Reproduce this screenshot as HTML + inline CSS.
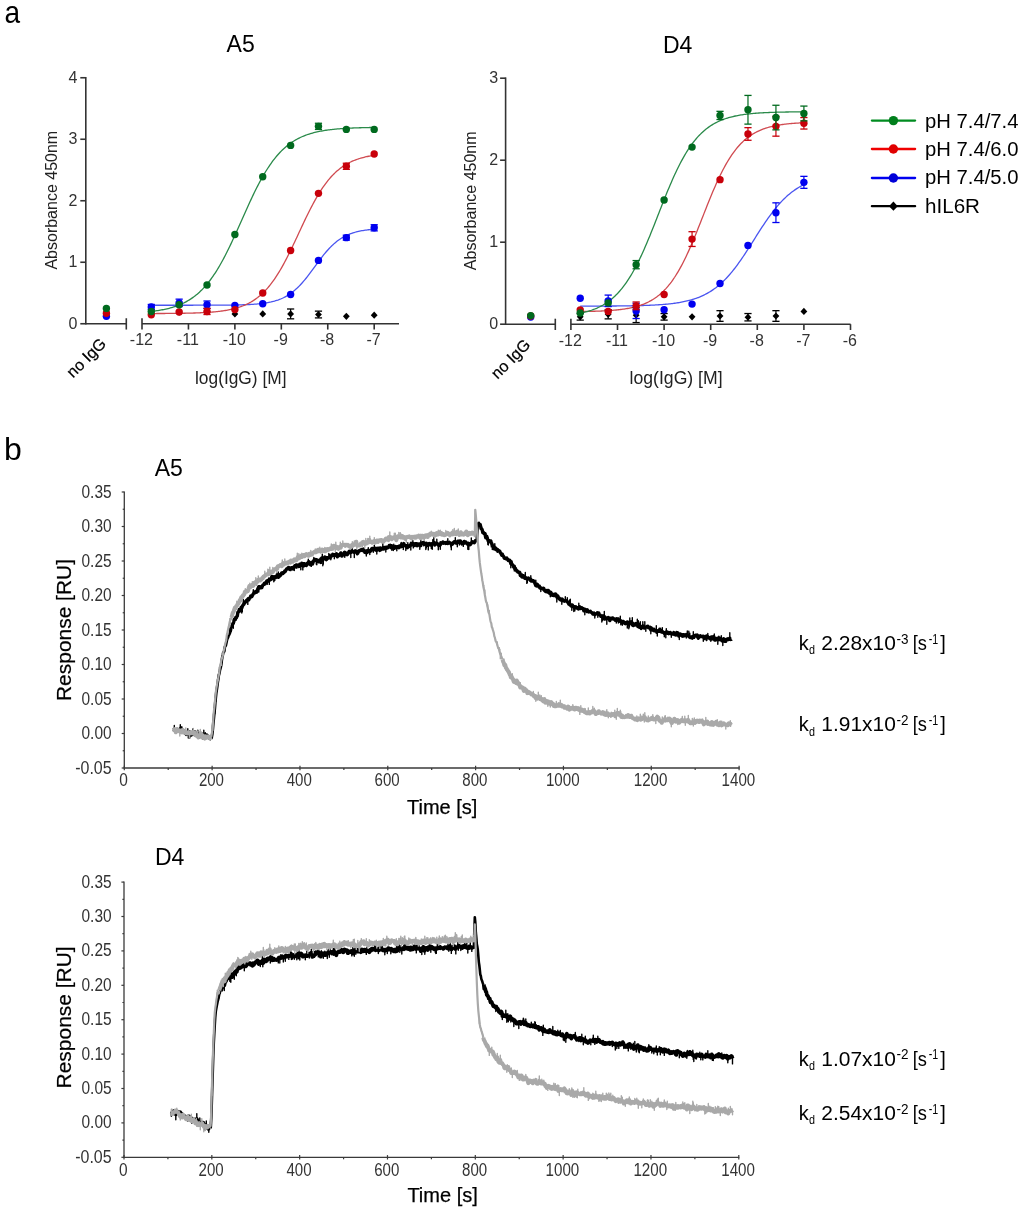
<!DOCTYPE html>
<html><head><meta charset="utf-8"><style>
html,body{margin:0;padding:0;background:#fff;overflow:hidden;}
svg{display:block;font-family:"Liberation Sans", sans-serif;will-change:transform;}
</style></head><body>
<svg width="1024" height="1213" viewBox="0 0 1024 1213">
<rect width="1024" height="1213" fill="#fff"/>
<text x="4.60" y="22.60" font-size="32" text-anchor="start" fill="#000" textLength="15.6" lengthAdjust="spacingAndGlyphs">a</text>
<line x1="85.80" y1="76.95" x2="85.80" y2="324.55" stroke="#333" stroke-width="1.6" />
<line x1="80.30" y1="323.75" x2="85.80" y2="323.75" stroke="#333" stroke-width="1.6" />
<text x="77.40" y="328.65" font-size="16" text-anchor="end" fill="#333" >0</text>
<line x1="80.30" y1="262.25" x2="85.80" y2="262.25" stroke="#333" stroke-width="1.6" />
<text x="77.40" y="267.15" font-size="16" text-anchor="end" fill="#333" >1</text>
<line x1="80.30" y1="200.75" x2="85.80" y2="200.75" stroke="#333" stroke-width="1.6" />
<text x="77.40" y="205.65" font-size="16" text-anchor="end" fill="#333" >2</text>
<line x1="80.30" y1="139.25" x2="85.80" y2="139.25" stroke="#333" stroke-width="1.6" />
<text x="77.40" y="144.15" font-size="16" text-anchor="end" fill="#333" >3</text>
<line x1="80.30" y1="77.75" x2="85.80" y2="77.75" stroke="#333" stroke-width="1.6" />
<text x="77.40" y="82.65" font-size="16" text-anchor="end" fill="#333" >4</text>
<line x1="85.80" y1="323.75" x2="126.30" y2="323.75" stroke="#333" stroke-width="1.6" />
<line x1="126.30" y1="318.25" x2="126.30" y2="329.55" stroke="#333" stroke-width="1.6" />
<line x1="142.00" y1="323.75" x2="399.00" y2="323.75" stroke="#333" stroke-width="1.6" />
<line x1="142.00" y1="318.25" x2="142.00" y2="329.55" stroke="#333" stroke-width="1.6" />
<line x1="188.44" y1="323.75" x2="188.44" y2="329.55" stroke="#333" stroke-width="1.6" />
<line x1="234.88" y1="323.75" x2="234.88" y2="329.55" stroke="#333" stroke-width="1.6" />
<line x1="281.32" y1="323.75" x2="281.32" y2="329.55" stroke="#333" stroke-width="1.6" />
<line x1="327.76" y1="323.75" x2="327.76" y2="329.55" stroke="#333" stroke-width="1.6" />
<line x1="374.20" y1="323.75" x2="374.20" y2="329.55" stroke="#333" stroke-width="1.6" />
<text x="141.40" y="345.35" font-size="16" text-anchor="middle" fill="#333" >-12</text>
<text x="187.84" y="345.35" font-size="16" text-anchor="middle" fill="#333" >-11</text>
<text x="234.28" y="345.35" font-size="16" text-anchor="middle" fill="#333" >-10</text>
<text x="280.72" y="345.35" font-size="16" text-anchor="middle" fill="#333" >-9</text>
<text x="327.16" y="345.35" font-size="16" text-anchor="middle" fill="#333" >-8</text>
<text x="373.60" y="345.35" font-size="16" text-anchor="middle" fill="#333" >-7</text>
<text x="195.00" y="383.80" font-size="17.5" text-anchor="start" fill="#222" textLength="91.5" lengthAdjust="spacingAndGlyphs">log(IgG) [M]</text>
<text transform="translate(57.00,200.20) rotate(-90)" font-size="16" text-anchor="middle" fill="#222">Absorbance 450nm</text>
<text transform="translate(90.10,361.60) rotate(-45)" font-size="16" text-anchor="middle" fill="#000" stroke="#000" stroke-width="0.25">no IgG</text>
<text x="226.60" y="51.90" font-size="23" text-anchor="start" fill="#000" >A5</text>
<polyline points="151.29,305.24 152.41,305.24 153.53,305.24 154.65,305.24 155.77,305.24 156.89,305.24 158.01,305.24 159.13,305.24 160.25,305.24 161.37,305.24 162.49,305.24 163.61,305.24 164.73,305.24 165.85,305.24 166.97,305.24 168.09,305.24 169.21,305.24 170.33,305.24 171.45,305.24 172.57,305.24 173.69,305.24 174.81,305.23 175.93,305.23 177.05,305.23 178.17,305.23 179.29,305.23 180.41,305.23 181.53,305.23 182.65,305.23 183.77,305.23 184.89,305.23 186.01,305.23 187.13,305.23 188.25,305.23 189.37,305.23 190.49,305.23 191.61,305.23 192.73,305.23 193.85,305.22 194.97,305.22 196.09,305.22 197.21,305.22 198.33,305.22 199.45,305.22 200.58,305.22 201.70,305.21 202.82,305.21 203.94,305.21 205.06,305.21 206.18,305.20 207.30,305.20 208.42,305.20 209.54,305.20 210.66,305.19 211.78,305.19 212.90,305.18 214.02,305.18 215.14,305.17 216.26,305.17 217.38,305.16 218.50,305.16 219.62,305.15 220.74,305.14 221.86,305.13 222.98,305.13 224.10,305.12 225.22,305.11 226.34,305.10 227.46,305.08 228.58,305.07 229.70,305.06 230.82,305.04 231.94,305.03 233.06,305.01 234.18,304.99 235.30,304.97 236.42,304.95 237.54,304.92 238.66,304.90 239.78,304.87 240.90,304.84 242.02,304.80 243.14,304.77 244.26,304.73 245.38,304.69 246.50,304.64 247.62,304.59 248.74,304.54 249.86,304.48 250.98,304.42 252.10,304.35 253.22,304.28 254.34,304.20 255.46,304.12 256.58,304.03 257.70,303.93 258.82,303.82 259.94,303.70 261.06,303.58 262.18,303.45 263.30,303.30 264.42,303.14 265.54,302.98 266.66,302.79 267.78,302.60 268.90,302.39 270.03,302.16 271.15,301.92 272.27,301.65 273.39,301.37 274.51,301.07 275.63,300.74 276.75,300.39 277.87,300.02 278.99,299.62 280.11,299.19 281.23,298.73 282.35,298.24 283.47,297.72 284.59,297.16 285.71,296.56 286.83,295.93 287.95,295.26 289.07,294.55 290.19,293.79 291.31,292.99 292.43,292.15 293.55,291.26 294.67,290.33 295.79,289.34 296.91,288.32 298.03,287.24 299.15,286.12 300.27,284.95 301.39,283.74 302.51,282.48 303.63,281.18 304.75,279.84 305.87,278.47 306.99,277.06 308.11,275.62 309.23,274.16 310.35,272.67 311.47,271.16 312.59,269.64 313.71,268.11 314.83,266.58 315.95,265.04 317.07,263.51 318.19,261.99 319.31,260.49 320.43,259.00 321.55,257.54 322.67,256.10 323.79,254.70 324.91,253.33 326.03,252.00 327.15,250.71 328.27,249.45 329.39,248.25 330.51,247.09 331.63,245.97 332.75,244.90 333.87,243.88 334.99,242.90 336.11,241.97 337.23,241.09 338.35,240.26 339.48,239.46 340.60,238.71 341.72,238.01 342.84,237.34 343.96,236.71 345.08,236.12 346.20,235.57 347.32,235.05 348.44,234.56 349.56,234.11 350.68,233.68 351.80,233.29 352.92,232.91 354.04,232.57 355.16,232.25 356.28,231.95 357.40,231.67 358.52,231.41 359.64,231.16 360.76,230.94 361.88,230.73 363.00,230.54 364.12,230.36 365.24,230.19 366.36,230.04 367.48,229.89 368.60,229.76 369.72,229.64 370.84,229.52 371.96,229.42 373.08,229.32 374.20,229.23" fill="none" stroke="#4a55f0" stroke-width="1.3"/>
<polyline points="151.29,313.54 152.41,313.54 153.53,313.53 154.65,313.53 155.77,313.53 156.89,313.52 158.01,313.52 159.13,313.51 160.25,313.50 161.37,313.50 162.49,313.49 163.61,313.48 164.73,313.48 165.85,313.47 166.97,313.46 168.09,313.45 169.21,313.44 170.33,313.43 171.45,313.42 172.57,313.41 173.69,313.40 174.81,313.39 175.93,313.38 177.05,313.36 178.17,313.35 179.29,313.33 180.41,313.31 181.53,313.30 182.65,313.28 183.77,313.26 184.89,313.24 186.01,313.21 187.13,313.19 188.25,313.16 189.37,313.14 190.49,313.11 191.61,313.08 192.73,313.05 193.85,313.01 194.97,312.98 196.09,312.94 197.21,312.90 198.33,312.85 199.45,312.81 200.58,312.76 201.70,312.71 202.82,312.65 203.94,312.59 205.06,312.53 206.18,312.47 207.30,312.40 208.42,312.32 209.54,312.25 210.66,312.16 211.78,312.07 212.90,311.98 214.02,311.88 215.14,311.78 216.26,311.67 217.38,311.55 218.50,311.42 219.62,311.29 220.74,311.15 221.86,311.00 222.98,310.84 224.10,310.68 225.22,310.50 226.34,310.31 227.46,310.11 228.58,309.90 229.70,309.68 230.82,309.45 231.94,309.20 233.06,308.93 234.18,308.66 235.30,308.36 236.42,308.05 237.54,307.72 238.66,307.37 239.78,307.00 240.90,306.61 242.02,306.20 243.14,305.77 244.26,305.31 245.38,304.83 246.50,304.32 247.62,303.78 248.74,303.21 249.86,302.61 250.98,301.99 252.10,301.32 253.22,300.63 254.34,299.90 255.46,299.13 256.58,298.32 257.70,297.47 258.82,296.58 259.94,295.65 261.06,294.67 262.18,293.65 263.30,292.58 264.42,291.46 265.54,290.30 266.66,289.08 267.78,287.81 268.90,286.49 270.03,285.11 271.15,283.68 272.27,282.20 273.39,280.66 274.51,279.06 275.63,277.41 276.75,275.70 277.87,273.94 278.99,272.13 280.11,270.26 281.23,268.34 282.35,266.37 283.47,264.34 284.59,262.27 285.71,260.16 286.83,258.00 287.95,255.80 289.07,253.57 290.19,251.30 291.31,249.00 292.43,246.67 293.55,244.32 294.67,241.95 295.79,239.56 296.91,237.16 298.03,234.76 299.15,232.35 300.27,229.94 301.39,227.54 302.51,225.14 303.63,222.76 304.75,220.40 305.87,218.06 306.99,215.75 308.11,213.47 309.23,211.22 310.35,209.00 311.47,206.83 312.59,204.70 313.71,202.61 314.83,200.57 315.95,198.57 317.07,196.63 318.19,194.74 319.31,192.90 320.43,191.11 321.55,189.38 322.67,187.71 323.79,186.09 324.91,184.53 326.03,183.02 327.15,181.57 328.27,180.17 329.39,178.82 330.51,177.53 331.63,176.29 332.75,175.10 333.87,173.96 334.99,172.87 336.11,171.83 337.23,170.83 338.35,169.88 339.48,168.98 340.60,168.11 341.72,167.29 342.84,166.50 343.96,165.75 345.08,165.04 346.20,164.37 347.32,163.72 348.44,163.11 349.56,162.54 350.68,161.99 351.80,161.46 352.92,160.97 354.04,160.50 355.16,160.06 356.28,159.64 357.40,159.24 358.52,158.86 359.64,158.50 360.76,158.17 361.88,157.85 363.00,157.54 364.12,157.26 365.24,156.99 366.36,156.73 367.48,156.49 368.60,156.26 369.72,156.05 370.84,155.85 371.96,155.65 373.08,155.47 374.20,155.30" fill="none" stroke="#d04a50" stroke-width="1.3"/>
<polyline points="151.29,311.42 152.41,311.29 153.53,311.15 154.65,311.01 155.77,310.86 156.89,310.70 158.01,310.53 159.13,310.35 160.25,310.17 161.37,309.97 162.49,309.76 163.61,309.54 164.73,309.31 165.85,309.07 166.97,308.82 168.09,308.55 169.21,308.27 170.33,307.97 171.45,307.66 172.57,307.33 173.69,306.98 174.81,306.62 175.93,306.24 177.05,305.84 178.17,305.41 179.29,304.97 180.41,304.51 181.53,304.02 182.65,303.51 183.77,302.97 184.89,302.40 186.01,301.81 187.13,301.19 188.25,300.54 189.37,299.86 190.49,299.15 191.61,298.40 192.73,297.62 193.85,296.81 194.97,295.95 196.09,295.06 197.21,294.13 198.33,293.16 199.45,292.15 200.58,291.09 201.70,290.00 202.82,288.85 203.94,287.66 205.06,286.42 206.18,285.14 207.30,283.80 208.42,282.42 209.54,280.98 210.66,279.49 211.78,277.95 212.90,276.36 214.02,274.72 215.14,273.02 216.26,271.28 217.38,269.48 218.50,267.62 219.62,265.72 220.74,263.77 221.86,261.76 222.98,259.71 224.10,257.61 225.22,255.47 226.34,253.28 227.46,251.05 228.58,248.78 229.70,246.47 230.82,244.13 231.94,241.75 233.06,239.35 234.18,236.92 235.30,234.46 236.42,231.99 237.54,229.50 238.66,226.99 239.78,224.48 240.90,221.96 242.02,219.44 243.14,216.92 244.26,214.40 245.38,211.90 246.50,209.40 247.62,206.93 248.74,204.47 249.86,202.03 250.98,199.62 252.10,197.24 253.22,194.89 254.34,192.58 255.46,190.30 256.58,188.06 257.70,185.87 258.82,183.71 259.94,181.60 261.06,179.54 262.18,177.53 263.30,175.57 264.42,173.66 265.54,171.79 266.66,169.98 267.78,168.23 268.90,166.52 270.03,164.87 271.15,163.27 272.27,161.72 273.39,160.22 274.51,158.78 275.63,157.38 276.75,156.04 277.87,154.74 278.99,153.49 280.11,152.29 281.23,151.14 282.35,150.03 283.47,148.97 284.59,147.95 285.71,146.97 286.83,146.03 287.95,145.13 289.07,144.27 290.19,143.45 291.31,142.66 292.43,141.91 293.55,141.19 294.67,140.51 295.79,139.85 296.91,139.23 298.03,138.63 299.15,138.06 300.27,137.52 301.39,137.00 302.51,136.51 303.63,136.04 304.75,135.59 305.87,135.16 306.99,134.76 308.11,134.37 309.23,134.01 310.35,133.66 311.47,133.33 312.59,133.01 313.71,132.71 314.83,132.43 315.95,132.15 317.07,131.90 318.19,131.65 319.31,131.42 320.43,131.20 321.55,130.99 322.67,130.79 323.79,130.60 324.91,130.42 326.03,130.25 327.15,130.09 328.27,129.94 329.39,129.79 330.51,129.66 331.63,129.52 332.75,129.40 333.87,129.28 334.99,129.17 336.11,129.06 337.23,128.96 338.35,128.87 339.48,128.78 340.60,128.69 341.72,128.61 342.84,128.53 343.96,128.46 345.08,128.39 346.20,128.33 347.32,128.26 348.44,128.20 349.56,128.15 350.68,128.10 351.80,128.05 352.92,128.00 354.04,127.95 355.16,127.91 356.28,127.87 357.40,127.83 358.52,127.79 359.64,127.76 360.76,127.73 361.88,127.70 363.00,127.67 364.12,127.64 365.24,127.61 366.36,127.59 367.48,127.56 368.60,127.54 369.72,127.52 370.84,127.50 371.96,127.48 373.08,127.46 374.20,127.44" fill="none" stroke="#2a8a4a" stroke-width="1.3"/>
<path d="M151.29,310.92L154.69,314.52L151.29,318.12L147.89,314.52Z" fill="#000"/>
<path d="M179.15,308.46L182.55,312.06L179.15,315.67L175.75,312.06Z" fill="#000"/>
<path d="M207.02,307.85L210.42,311.45L207.02,315.05L203.62,311.45Z" fill="#000"/>
<path d="M234.88,310.31L238.28,313.91L234.88,317.51L231.48,313.91Z" fill="#000"/>
<path d="M262.74,310.31L266.14,313.91L262.74,317.51L259.34,313.91Z" fill="#000"/>
<line x1="290.61" y1="308.99" x2="290.61" y2="318.83" stroke="#000" stroke-width="1.2" />
<line x1="287.01" y1="308.99" x2="294.21" y2="308.99" stroke="#000" stroke-width="1.3" />
<line x1="287.01" y1="318.83" x2="294.21" y2="318.83" stroke="#000" stroke-width="1.3" />
<path d="M290.61,310.31L294.01,313.91L290.61,317.51L287.21,313.91Z" fill="#000"/>
<line x1="318.47" y1="311.14" x2="318.47" y2="317.91" stroke="#000" stroke-width="1.2" />
<line x1="314.87" y1="311.14" x2="322.07" y2="311.14" stroke="#000" stroke-width="1.3" />
<line x1="314.87" y1="317.91" x2="322.07" y2="317.91" stroke="#000" stroke-width="1.3" />
<path d="M318.47,310.92L321.87,314.52L318.47,318.12L315.07,314.52Z" fill="#000"/>
<path d="M346.34,312.77L349.74,316.37L346.34,319.97L342.94,316.37Z" fill="#000"/>
<path d="M374.20,311.54L377.60,315.14L374.20,318.74L370.80,315.14Z" fill="#000"/>
<line x1="151.29" y1="304.44" x2="151.29" y2="309.36" stroke="#0000f0" stroke-width="1.2" />
<line x1="147.69" y1="304.44" x2="154.89" y2="304.44" stroke="#0000f0" stroke-width="1.3" />
<line x1="147.69" y1="309.36" x2="154.89" y2="309.36" stroke="#0000f0" stroke-width="1.3" />
<circle cx="151.29" cy="306.90" r="3.7" fill="#0000f0"/>
<line x1="179.15" y1="299.15" x2="179.15" y2="306.53" stroke="#0000f0" stroke-width="1.2" />
<line x1="175.55" y1="299.15" x2="182.75" y2="299.15" stroke="#0000f0" stroke-width="1.3" />
<line x1="175.55" y1="306.53" x2="182.75" y2="306.53" stroke="#0000f0" stroke-width="1.3" />
<circle cx="179.15" cy="302.84" r="3.7" fill="#0000f0"/>
<line x1="207.02" y1="301.00" x2="207.02" y2="308.38" stroke="#0000f0" stroke-width="1.2" />
<line x1="203.42" y1="301.00" x2="210.62" y2="301.00" stroke="#0000f0" stroke-width="1.3" />
<line x1="203.42" y1="308.38" x2="210.62" y2="308.38" stroke="#0000f0" stroke-width="1.3" />
<circle cx="207.02" cy="304.69" r="3.7" fill="#0000f0"/>
<circle cx="234.88" cy="305.48" r="3.7" fill="#0000f0"/>
<circle cx="262.74" cy="303.76" r="3.7" fill="#0000f0"/>
<circle cx="290.61" cy="294.48" r="3.7" fill="#0000f0"/>
<circle cx="318.47" cy="260.40" r="3.7" fill="#0000f0"/>
<line x1="346.34" y1="235.19" x2="346.34" y2="240.11" stroke="#0000f0" stroke-width="1.2" />
<line x1="342.74" y1="235.19" x2="349.94" y2="235.19" stroke="#0000f0" stroke-width="1.3" />
<line x1="342.74" y1="240.11" x2="349.94" y2="240.11" stroke="#0000f0" stroke-width="1.3" />
<circle cx="346.34" cy="237.65" r="3.7" fill="#0000f0"/>
<line x1="374.20" y1="224.74" x2="374.20" y2="230.88" stroke="#0000f0" stroke-width="1.2" />
<line x1="370.60" y1="224.74" x2="377.80" y2="224.74" stroke="#0000f0" stroke-width="1.3" />
<line x1="370.60" y1="230.88" x2="377.80" y2="230.88" stroke="#0000f0" stroke-width="1.3" />
<circle cx="374.20" cy="227.81" r="3.7" fill="#0000f0"/>
<circle cx="151.29" cy="314.71" r="3.7" fill="#c8000a"/>
<circle cx="179.15" cy="312.06" r="3.7" fill="#c8000a"/>
<line x1="207.02" y1="308.38" x2="207.02" y2="314.52" stroke="#c8000a" stroke-width="1.2" />
<line x1="203.42" y1="308.38" x2="210.62" y2="308.38" stroke="#c8000a" stroke-width="1.3" />
<line x1="203.42" y1="314.52" x2="210.62" y2="314.52" stroke="#c8000a" stroke-width="1.3" />
<circle cx="207.02" cy="311.45" r="3.7" fill="#c8000a"/>
<circle cx="234.88" cy="309.61" r="3.7" fill="#c8000a"/>
<circle cx="262.74" cy="293.00" r="3.7" fill="#c8000a"/>
<circle cx="290.61" cy="250.56" r="3.7" fill="#c8000a"/>
<circle cx="318.47" cy="193.37" r="3.7" fill="#c8000a"/>
<line x1="346.34" y1="163.24" x2="346.34" y2="169.38" stroke="#c8000a" stroke-width="1.2" />
<line x1="342.74" y1="163.24" x2="349.94" y2="163.24" stroke="#c8000a" stroke-width="1.3" />
<line x1="342.74" y1="169.38" x2="349.94" y2="169.38" stroke="#c8000a" stroke-width="1.3" />
<circle cx="346.34" cy="166.31" r="3.7" fill="#c8000a"/>
<circle cx="374.20" cy="154.01" r="3.7" fill="#c8000a"/>
<circle cx="151.29" cy="311.45" r="3.7" fill="#006a1e"/>
<circle cx="179.15" cy="304.69" r="3.7" fill="#006a1e"/>
<circle cx="207.02" cy="285.00" r="3.7" fill="#006a1e"/>
<circle cx="234.88" cy="234.57" r="3.7" fill="#006a1e"/>
<circle cx="262.74" cy="176.76" r="3.7" fill="#006a1e"/>
<circle cx="290.61" cy="145.40" r="3.7" fill="#006a1e"/>
<line x1="318.47" y1="123.26" x2="318.47" y2="129.41" stroke="#006a1e" stroke-width="1.2" />
<line x1="314.87" y1="123.26" x2="322.07" y2="123.26" stroke="#006a1e" stroke-width="1.3" />
<line x1="314.87" y1="129.41" x2="322.07" y2="129.41" stroke="#006a1e" stroke-width="1.3" />
<circle cx="318.47" cy="126.34" r="3.7" fill="#006a1e"/>
<circle cx="346.34" cy="129.41" r="3.7" fill="#006a1e"/>
<circle cx="374.20" cy="129.41" r="3.7" fill="#006a1e"/>
<circle cx="106.40" cy="316.37" r="3.7" fill="#0000f0"/>
<circle cx="106.40" cy="313.30" r="3.7" fill="#c8000a"/>
<circle cx="106.40" cy="308.38" r="3.7" fill="#006a1e"/>
<line x1="505.60" y1="77.40" x2="505.60" y2="325.00" stroke="#333" stroke-width="1.6" />
<line x1="500.10" y1="324.20" x2="505.60" y2="324.20" stroke="#333" stroke-width="1.6" />
<text x="498.10" y="329.10" font-size="16" text-anchor="end" fill="#333" >0</text>
<line x1="500.10" y1="242.20" x2="505.60" y2="242.20" stroke="#333" stroke-width="1.6" />
<text x="498.10" y="247.10" font-size="16" text-anchor="end" fill="#333" >1</text>
<line x1="500.10" y1="160.20" x2="505.60" y2="160.20" stroke="#333" stroke-width="1.6" />
<text x="498.10" y="165.10" font-size="16" text-anchor="end" fill="#333" >2</text>
<line x1="500.10" y1="78.20" x2="505.60" y2="78.20" stroke="#333" stroke-width="1.6" />
<text x="498.10" y="83.10" font-size="16" text-anchor="end" fill="#333" >3</text>
<line x1="505.60" y1="324.20" x2="555.30" y2="324.20" stroke="#333" stroke-width="1.6" />
<line x1="555.30" y1="318.70" x2="555.30" y2="330.00" stroke="#333" stroke-width="1.6" />
<line x1="570.90" y1="324.20" x2="850.60" y2="324.20" stroke="#333" stroke-width="1.6" />
<line x1="570.90" y1="318.70" x2="570.90" y2="330.00" stroke="#333" stroke-width="1.6" />
<line x1="617.50" y1="324.20" x2="617.50" y2="330.00" stroke="#333" stroke-width="1.6" />
<line x1="664.10" y1="324.20" x2="664.10" y2="330.00" stroke="#333" stroke-width="1.6" />
<line x1="710.70" y1="324.20" x2="710.70" y2="330.00" stroke="#333" stroke-width="1.6" />
<line x1="757.30" y1="324.20" x2="757.30" y2="330.00" stroke="#333" stroke-width="1.6" />
<line x1="803.90" y1="324.20" x2="803.90" y2="330.00" stroke="#333" stroke-width="1.6" />
<line x1="850.50" y1="324.20" x2="850.50" y2="330.00" stroke="#333" stroke-width="1.6" />
<text x="570.30" y="345.80" font-size="16" text-anchor="middle" fill="#333" >-12</text>
<text x="616.90" y="345.80" font-size="16" text-anchor="middle" fill="#333" >-11</text>
<text x="663.50" y="345.80" font-size="16" text-anchor="middle" fill="#333" >-10</text>
<text x="710.10" y="345.80" font-size="16" text-anchor="middle" fill="#333" >-9</text>
<text x="756.70" y="345.80" font-size="16" text-anchor="middle" fill="#333" >-8</text>
<text x="803.30" y="345.80" font-size="16" text-anchor="middle" fill="#333" >-7</text>
<text x="849.90" y="345.80" font-size="16" text-anchor="middle" fill="#333" >-6</text>
<text x="629.60" y="383.80" font-size="17.5" text-anchor="start" fill="#222" textLength="93.0" lengthAdjust="spacingAndGlyphs">log(IgG) [M]</text>
<text transform="translate(475.80,200.80) rotate(-90)" font-size="16" text-anchor="middle" fill="#222">Absorbance 450nm</text>
<text transform="translate(514.40,362.80) rotate(-45)" font-size="16" text-anchor="middle" fill="#000" stroke="#000" stroke-width="0.25">no IgG</text>
<text x="663.00" y="53.20" font-size="23" text-anchor="start" fill="#000" >D4</text>
<polyline points="580.22,306.13 581.34,306.13 582.47,306.12 583.59,306.12 584.72,306.12 585.84,306.12 586.96,306.11 588.09,306.11 589.21,306.11 590.34,306.11 591.46,306.10 592.58,306.10 593.71,306.10 594.83,306.09 595.96,306.09 597.08,306.09 598.20,306.08 599.33,306.08 600.45,306.07 601.58,306.07 602.70,306.06 603.82,306.06 604.95,306.05 606.07,306.05 607.20,306.04 608.32,306.03 609.44,306.03 610.57,306.02 611.69,306.01 612.82,306.00 613.94,306.00 615.06,305.99 616.19,305.98 617.31,305.97 618.44,305.96 619.56,305.95 620.68,305.93 621.81,305.92 622.93,305.91 624.06,305.89 625.18,305.88 626.30,305.86 627.43,305.85 628.55,305.83 629.68,305.81 630.80,305.79 631.92,305.77 633.05,305.75 634.17,305.73 635.30,305.71 636.42,305.68 637.55,305.66 638.67,305.63 639.79,305.60 640.92,305.57 642.04,305.53 643.17,305.50 644.29,305.46 645.41,305.43 646.54,305.39 647.66,305.34 648.79,305.30 649.91,305.25 651.03,305.20 652.16,305.15 653.28,305.09 654.41,305.03 655.53,304.97 656.65,304.91 657.78,304.84 658.90,304.77 660.03,304.69 661.15,304.61 662.27,304.53 663.40,304.44 664.52,304.34 665.65,304.24 666.77,304.14 667.89,304.03 669.02,303.91 670.14,303.79 671.27,303.66 672.39,303.53 673.51,303.39 674.64,303.24 675.76,303.08 676.89,302.91 678.01,302.74 679.13,302.56 680.26,302.36 681.38,302.16 682.51,301.94 683.63,301.72 684.75,301.48 685.88,301.23 687.00,300.97 688.13,300.70 689.25,300.41 690.37,300.11 691.50,299.79 692.62,299.45 693.75,299.10 694.87,298.74 695.99,298.35 697.12,297.95 698.24,297.52 699.37,297.08 700.49,296.61 701.61,296.12 702.74,295.61 703.86,295.08 704.99,294.52 706.11,293.94 707.23,293.33 708.36,292.69 709.48,292.03 710.61,291.33 711.73,290.61 712.85,289.86 713.98,289.07 715.10,288.25 716.23,287.41 717.35,286.52 718.47,285.61 719.60,284.66 720.72,283.67 721.85,282.65 722.97,281.59 724.09,280.49 725.22,279.36 726.34,278.19 727.47,276.99 728.59,275.75 729.71,274.47 730.84,273.15 731.96,271.80 733.09,270.42 734.21,269.00 735.33,267.54 736.46,266.05 737.58,264.53 738.71,262.98 739.83,261.40 740.95,259.79 742.08,258.16 743.20,256.50 744.33,254.82 745.45,253.12 746.57,251.39 747.70,249.66 748.82,247.91 749.95,246.15 751.07,244.37 752.20,242.60 753.32,240.81 754.44,239.03 755.57,237.25 756.69,235.47 757.82,233.70 758.94,231.94 760.06,230.18 761.19,228.45 762.31,226.72 763.44,225.02 764.56,223.33 765.68,221.67 766.81,220.04 767.93,218.42 769.06,216.84 770.18,215.29 771.30,213.76 772.43,212.27 773.55,210.81 774.68,209.39 775.80,208.00 776.92,206.64 778.05,205.32 779.17,204.04 780.30,202.79 781.42,201.58 782.54,200.41 783.67,199.28 784.79,198.18 785.92,197.12 787.04,196.09 788.16,195.10 789.29,194.14 790.41,193.22 791.54,192.34 792.66,191.48 793.78,190.66 794.91,189.88 796.03,189.12 797.16,188.39 798.28,187.70 799.40,187.03 800.53,186.39 801.65,185.77 802.78,185.19 803.90,184.63" fill="none" stroke="#4a55f0" stroke-width="1.3"/>
<polyline points="580.22,311.55 581.34,311.53 582.47,311.52 583.59,311.50 584.72,311.48 585.84,311.46 586.96,311.43 588.09,311.41 589.21,311.38 590.34,311.36 591.46,311.33 592.58,311.30 593.71,311.27 594.83,311.23 595.96,311.20 597.08,311.16 598.20,311.12 599.33,311.07 600.45,311.03 601.58,310.98 602.70,310.93 603.82,310.87 604.95,310.81 606.07,310.75 607.20,310.68 608.32,310.61 609.44,310.54 610.57,310.46 611.69,310.38 612.82,310.29 613.94,310.19 615.06,310.09 616.19,309.99 617.31,309.88 618.44,309.76 619.56,309.63 620.68,309.50 621.81,309.35 622.93,309.20 624.06,309.04 625.18,308.87 626.30,308.69 627.43,308.50 628.55,308.30 629.68,308.09 630.80,307.86 631.92,307.62 633.05,307.37 634.17,307.10 635.30,306.81 636.42,306.51 637.55,306.19 638.67,305.85 639.79,305.50 640.92,305.12 642.04,304.72 643.17,304.29 644.29,303.85 645.41,303.37 646.54,302.87 647.66,302.35 648.79,301.79 649.91,301.20 651.03,300.58 652.16,299.93 653.28,299.24 654.41,298.52 655.53,297.75 656.65,296.95 657.78,296.10 658.90,295.21 660.03,294.27 661.15,293.29 662.27,292.26 663.40,291.18 664.52,290.04 665.65,288.86 666.77,287.61 667.89,286.31 669.02,284.95 670.14,283.54 671.27,282.06 672.39,280.51 673.51,278.91 674.64,277.24 675.76,275.50 676.89,273.70 678.01,271.83 679.13,269.90 680.26,267.90 681.38,265.83 682.51,263.70 683.63,261.51 684.75,259.25 685.88,256.93 687.00,254.55 688.13,252.12 689.25,249.63 690.37,247.08 691.50,244.49 692.62,241.85 693.75,239.17 694.87,236.45 695.99,233.70 697.12,230.91 698.24,228.11 699.37,225.28 700.49,222.44 701.61,219.58 702.74,216.73 703.86,213.87 704.99,211.02 706.11,208.18 707.23,205.35 708.36,202.54 709.48,199.76 710.61,197.01 711.73,194.30 712.85,191.62 713.98,188.99 715.10,186.40 716.23,183.86 717.35,181.37 718.47,178.94 719.60,176.57 720.72,174.26 721.85,172.00 722.97,169.81 724.09,167.69 725.22,165.63 726.34,163.64 727.47,161.71 728.59,159.85 729.71,158.05 730.84,156.33 731.96,154.66 733.09,153.06 734.21,151.52 735.33,150.05 736.46,148.64 737.58,147.28 738.71,145.99 739.83,144.75 740.95,143.57 742.08,142.44 743.20,141.36 744.33,140.34 745.45,139.36 746.57,138.43 747.70,137.54 748.82,136.70 749.95,135.90 751.07,135.14 752.20,134.42 753.32,133.73 754.44,133.08 755.57,132.46 756.69,131.88 757.82,131.33 758.94,130.80 760.06,130.30 761.19,129.83 762.31,129.39 763.44,128.97 764.56,128.57 765.68,128.19 766.81,127.84 767.93,127.50 769.06,127.18 770.18,126.88 771.30,126.60 772.43,126.33 773.55,126.08 774.68,125.84 775.80,125.61 776.92,125.40 778.05,125.20 779.17,125.01 780.30,124.83 781.42,124.66 782.54,124.51 783.67,124.36 784.79,124.21 785.92,124.08 787.04,123.96 788.16,123.84 789.29,123.72 790.41,123.62 791.54,123.52 792.66,123.43 793.78,123.34 794.91,123.26 796.03,123.18 797.16,123.10 798.28,123.03 799.40,122.97 800.53,122.91 801.65,122.85 802.78,122.79 803.90,122.74" fill="none" stroke="#d04a50" stroke-width="1.3"/>
<polyline points="580.22,313.25 581.34,313.01 582.47,312.77 583.59,312.51 584.72,312.23 585.84,311.94 586.96,311.64 588.09,311.32 589.21,310.98 590.34,310.62 591.46,310.25 592.58,309.85 593.71,309.43 594.83,308.99 595.96,308.53 597.08,308.05 598.20,307.53 599.33,307.00 600.45,306.43 601.58,305.83 602.70,305.21 603.82,304.55 604.95,303.86 606.07,303.14 607.20,302.38 608.32,301.58 609.44,300.74 610.57,299.87 611.69,298.95 612.82,297.99 613.94,296.98 615.06,295.93 616.19,294.83 617.31,293.68 618.44,292.48 619.56,291.23 620.68,289.93 621.81,288.57 622.93,287.16 624.06,285.68 625.18,284.16 626.30,282.57 627.43,280.92 628.55,279.21 629.68,277.44 630.80,275.61 631.92,273.72 633.05,271.76 634.17,269.74 635.30,267.67 636.42,265.53 637.55,263.33 638.67,261.07 639.79,258.75 640.92,256.38 642.04,253.95 643.17,251.47 644.29,248.94 645.41,246.36 646.54,243.74 647.66,241.07 648.79,238.37 649.91,235.63 651.03,232.86 652.16,230.06 653.28,227.24 654.41,224.40 655.53,221.54 656.65,218.67 657.78,215.80 658.90,212.92 660.03,210.05 661.15,207.18 662.27,204.33 663.40,201.49 664.52,198.67 665.65,195.87 666.77,193.10 667.89,190.37 669.02,187.67 670.14,185.01 671.27,182.39 672.39,179.82 673.51,177.29 674.64,174.82 675.76,172.40 676.89,170.03 678.01,167.72 679.13,165.47 680.26,163.28 681.38,161.14 682.51,159.07 683.63,157.06 684.75,155.11 685.88,153.23 687.00,151.40 688.13,149.64 689.25,147.94 690.37,146.30 691.50,144.72 692.62,143.19 693.75,141.73 694.87,140.32 695.99,138.97 697.12,137.67 698.24,136.43 699.37,135.23 700.49,134.09 701.61,133.00 702.74,131.95 703.86,130.95 704.99,129.99 706.11,129.08 707.23,128.21 708.36,127.38 709.48,126.59 710.61,125.83 711.73,125.11 712.85,124.42 713.98,123.77 715.10,123.15 716.23,122.55 717.35,121.99 718.47,121.46 719.60,120.95 720.72,120.46 721.85,120.00 722.97,119.57 724.09,119.15 725.22,118.76 726.34,118.39 727.47,118.03 728.59,117.69 729.71,117.37 730.84,117.07 731.96,116.78 733.09,116.51 734.21,116.25 735.33,116.01 736.46,115.78 737.58,115.56 738.71,115.35 739.83,115.15 740.95,114.96 742.08,114.79 743.20,114.62 744.33,114.46 745.45,114.31 746.57,114.17 747.70,114.03 748.82,113.90 749.95,113.78 751.07,113.67 752.20,113.56 753.32,113.46 754.44,113.36 755.57,113.27 756.69,113.18 757.82,113.10 758.94,113.02 760.06,112.95 761.19,112.88 762.31,112.81 763.44,112.75 764.56,112.69 765.68,112.63 766.81,112.58 767.93,112.53 769.06,112.48 770.18,112.44 771.30,112.40 772.43,112.36 773.55,112.32 774.68,112.28 775.80,112.25 776.92,112.22 778.05,112.19 779.17,112.16 780.30,112.13 781.42,112.10 782.54,112.08 783.67,112.06 784.79,112.03 785.92,112.01 787.04,111.99 788.16,111.98 789.29,111.96 790.41,111.94 791.54,111.93 792.66,111.91 793.78,111.90 794.91,111.89 796.03,111.87 797.16,111.86 798.28,111.85 799.40,111.84 800.53,111.83 801.65,111.82 802.78,111.81 803.90,111.80" fill="none" stroke="#2a8a4a" stroke-width="1.3"/>
<line x1="580.22" y1="313.54" x2="580.22" y2="320.10" stroke="#000" stroke-width="1.2" />
<line x1="576.62" y1="313.54" x2="583.82" y2="313.54" stroke="#000" stroke-width="1.3" />
<line x1="576.62" y1="320.10" x2="583.82" y2="320.10" stroke="#000" stroke-width="1.3" />
<path d="M580.22,313.22L583.62,316.82L580.22,320.42L576.82,316.82Z" fill="#000"/>
<line x1="608.18" y1="309.85" x2="608.18" y2="318.87" stroke="#000" stroke-width="1.2" />
<line x1="604.58" y1="309.85" x2="611.78" y2="309.85" stroke="#000" stroke-width="1.3" />
<line x1="604.58" y1="318.87" x2="611.78" y2="318.87" stroke="#000" stroke-width="1.3" />
<path d="M608.18,310.76L611.58,314.36L608.18,317.96L604.78,314.36Z" fill="#000"/>
<line x1="636.14" y1="307.80" x2="636.14" y2="322.56" stroke="#000" stroke-width="1.2" />
<line x1="632.54" y1="307.80" x2="639.74" y2="307.80" stroke="#000" stroke-width="1.3" />
<line x1="632.54" y1="322.56" x2="639.74" y2="322.56" stroke="#000" stroke-width="1.3" />
<path d="M636.14,311.58L639.54,315.18L636.14,318.78L632.74,315.18Z" fill="#000"/>
<line x1="664.10" y1="313.54" x2="664.10" y2="320.10" stroke="#000" stroke-width="1.2" />
<line x1="660.50" y1="313.54" x2="667.70" y2="313.54" stroke="#000" stroke-width="1.3" />
<line x1="660.50" y1="320.10" x2="667.70" y2="320.10" stroke="#000" stroke-width="1.3" />
<path d="M664.10,313.22L667.50,316.82L664.10,320.42L660.70,316.82Z" fill="#000"/>
<path d="M692.06,313.22L695.46,316.82L692.06,320.42L688.66,316.82Z" fill="#000"/>
<line x1="720.02" y1="310.67" x2="720.02" y2="321.33" stroke="#000" stroke-width="1.2" />
<line x1="716.42" y1="310.67" x2="723.62" y2="310.67" stroke="#000" stroke-width="1.3" />
<line x1="716.42" y1="321.33" x2="723.62" y2="321.33" stroke="#000" stroke-width="1.3" />
<path d="M720.02,312.40L723.42,316.00L720.02,319.60L716.62,316.00Z" fill="#000"/>
<line x1="747.98" y1="313.54" x2="747.98" y2="320.92" stroke="#000" stroke-width="1.2" />
<line x1="744.38" y1="313.54" x2="751.58" y2="313.54" stroke="#000" stroke-width="1.3" />
<line x1="744.38" y1="320.92" x2="751.58" y2="320.92" stroke="#000" stroke-width="1.3" />
<path d="M747.98,313.63L751.38,317.23L747.98,320.83L744.58,317.23Z" fill="#000"/>
<line x1="775.94" y1="310.67" x2="775.94" y2="321.33" stroke="#000" stroke-width="1.2" />
<line x1="772.34" y1="310.67" x2="779.54" y2="310.67" stroke="#000" stroke-width="1.3" />
<line x1="772.34" y1="321.33" x2="779.54" y2="321.33" stroke="#000" stroke-width="1.3" />
<path d="M775.94,312.40L779.34,316.00L775.94,319.60L772.54,316.00Z" fill="#000"/>
<path d="M803.90,307.81L807.30,311.41L803.90,315.01L800.50,311.41Z" fill="#000"/>
<circle cx="580.22" cy="298.21" r="3.7" fill="#0000f0"/>
<line x1="608.18" y1="295.09" x2="608.18" y2="306.57" stroke="#0000f0" stroke-width="1.2" />
<line x1="604.58" y1="295.09" x2="611.78" y2="295.09" stroke="#0000f0" stroke-width="1.3" />
<line x1="604.58" y1="306.57" x2="611.78" y2="306.57" stroke="#0000f0" stroke-width="1.3" />
<circle cx="608.18" cy="300.83" r="3.7" fill="#0000f0"/>
<line x1="636.14" y1="303.29" x2="636.14" y2="318.54" stroke="#0000f0" stroke-width="1.2" />
<line x1="632.54" y1="303.29" x2="639.74" y2="303.29" stroke="#0000f0" stroke-width="1.3" />
<line x1="632.54" y1="318.54" x2="639.74" y2="318.54" stroke="#0000f0" stroke-width="1.3" />
<circle cx="636.14" cy="310.92" r="3.7" fill="#0000f0"/>
<circle cx="664.10" cy="309.69" r="3.7" fill="#0000f0"/>
<circle cx="692.06" cy="304.11" r="3.7" fill="#0000f0"/>
<circle cx="720.02" cy="283.53" r="3.7" fill="#0000f0"/>
<circle cx="747.98" cy="245.40" r="3.7" fill="#0000f0"/>
<line x1="775.94" y1="202.84" x2="775.94" y2="222.52" stroke="#0000f0" stroke-width="1.2" />
<line x1="772.34" y1="202.84" x2="779.54" y2="202.84" stroke="#0000f0" stroke-width="1.3" />
<line x1="772.34" y1="222.52" x2="779.54" y2="222.52" stroke="#0000f0" stroke-width="1.3" />
<circle cx="775.94" cy="212.68" r="3.7" fill="#0000f0"/>
<line x1="803.90" y1="176.35" x2="803.90" y2="188.33" stroke="#0000f0" stroke-width="1.2" />
<line x1="800.30" y1="176.35" x2="807.50" y2="176.35" stroke="#0000f0" stroke-width="1.3" />
<line x1="800.30" y1="188.33" x2="807.50" y2="188.33" stroke="#0000f0" stroke-width="1.3" />
<circle cx="803.90" cy="182.34" r="3.7" fill="#0000f0"/>
<circle cx="580.22" cy="309.85" r="3.7" fill="#c8000a"/>
<circle cx="608.18" cy="311.41" r="3.7" fill="#c8000a"/>
<line x1="636.14" y1="301.98" x2="636.14" y2="309.69" stroke="#c8000a" stroke-width="1.2" />
<line x1="632.54" y1="301.98" x2="639.74" y2="301.98" stroke="#c8000a" stroke-width="1.3" />
<line x1="632.54" y1="309.69" x2="639.74" y2="309.69" stroke="#c8000a" stroke-width="1.3" />
<circle cx="636.14" cy="305.83" r="3.7" fill="#c8000a"/>
<circle cx="664.10" cy="294.43" r="3.7" fill="#c8000a"/>
<line x1="692.06" y1="231.70" x2="692.06" y2="246.46" stroke="#c8000a" stroke-width="1.2" />
<line x1="688.46" y1="231.70" x2="695.66" y2="231.70" stroke="#c8000a" stroke-width="1.3" />
<line x1="688.46" y1="246.46" x2="695.66" y2="246.46" stroke="#c8000a" stroke-width="1.3" />
<circle cx="692.06" cy="239.08" r="3.7" fill="#c8000a"/>
<circle cx="720.02" cy="179.63" r="3.7" fill="#c8000a"/>
<line x1="747.98" y1="127.65" x2="747.98" y2="140.27" stroke="#c8000a" stroke-width="1.2" />
<line x1="744.38" y1="127.65" x2="751.58" y2="127.65" stroke="#c8000a" stroke-width="1.3" />
<line x1="744.38" y1="140.27" x2="751.58" y2="140.27" stroke="#c8000a" stroke-width="1.3" />
<circle cx="747.98" cy="133.96" r="3.7" fill="#c8000a"/>
<line x1="775.94" y1="116.49" x2="775.94" y2="136.17" stroke="#c8000a" stroke-width="1.2" />
<line x1="772.34" y1="116.49" x2="779.54" y2="116.49" stroke="#c8000a" stroke-width="1.3" />
<line x1="772.34" y1="136.17" x2="779.54" y2="136.17" stroke="#c8000a" stroke-width="1.3" />
<circle cx="775.94" cy="126.33" r="3.7" fill="#c8000a"/>
<line x1="803.90" y1="117.56" x2="803.90" y2="129.04" stroke="#c8000a" stroke-width="1.2" />
<line x1="800.30" y1="117.56" x2="807.50" y2="117.56" stroke="#c8000a" stroke-width="1.3" />
<line x1="800.30" y1="129.04" x2="807.50" y2="129.04" stroke="#c8000a" stroke-width="1.3" />
<circle cx="803.90" cy="123.30" r="3.7" fill="#c8000a"/>
<circle cx="580.22" cy="312.97" r="3.7" fill="#006a1e"/>
<circle cx="608.18" cy="302.88" r="3.7" fill="#006a1e"/>
<line x1="636.14" y1="260.57" x2="636.14" y2="268.77" stroke="#006a1e" stroke-width="1.2" />
<line x1="632.54" y1="260.57" x2="639.74" y2="260.57" stroke="#006a1e" stroke-width="1.3" />
<line x1="632.54" y1="268.77" x2="639.74" y2="268.77" stroke="#006a1e" stroke-width="1.3" />
<circle cx="636.14" cy="264.67" r="3.7" fill="#006a1e"/>
<circle cx="664.10" cy="199.97" r="3.7" fill="#006a1e"/>
<circle cx="692.06" cy="147.08" r="3.7" fill="#006a1e"/>
<line x1="720.02" y1="111.33" x2="720.02" y2="119.53" stroke="#006a1e" stroke-width="1.2" />
<line x1="716.42" y1="111.33" x2="723.62" y2="111.33" stroke="#006a1e" stroke-width="1.3" />
<line x1="716.42" y1="119.53" x2="723.62" y2="119.53" stroke="#006a1e" stroke-width="1.3" />
<circle cx="720.02" cy="115.43" r="3.7" fill="#006a1e"/>
<line x1="747.98" y1="95.42" x2="747.98" y2="124.12" stroke="#006a1e" stroke-width="1.2" />
<line x1="744.38" y1="95.42" x2="751.58" y2="95.42" stroke="#006a1e" stroke-width="1.3" />
<line x1="744.38" y1="124.12" x2="751.58" y2="124.12" stroke="#006a1e" stroke-width="1.3" />
<circle cx="747.98" cy="109.77" r="3.7" fill="#006a1e"/>
<line x1="775.94" y1="105.26" x2="775.94" y2="129.86" stroke="#006a1e" stroke-width="1.2" />
<line x1="772.34" y1="105.26" x2="779.54" y2="105.26" stroke="#006a1e" stroke-width="1.3" />
<line x1="772.34" y1="129.86" x2="779.54" y2="129.86" stroke="#006a1e" stroke-width="1.3" />
<circle cx="775.94" cy="117.56" r="3.7" fill="#006a1e"/>
<line x1="803.90" y1="106.08" x2="803.90" y2="120.84" stroke="#006a1e" stroke-width="1.2" />
<line x1="800.30" y1="106.08" x2="807.50" y2="106.08" stroke="#006a1e" stroke-width="1.3" />
<line x1="800.30" y1="120.84" x2="807.50" y2="120.84" stroke="#006a1e" stroke-width="1.3" />
<circle cx="803.90" cy="113.46" r="3.7" fill="#006a1e"/>
<circle cx="530.70" cy="317.07" r="3.7" fill="#0000f0"/>
<circle cx="530.70" cy="316.00" r="3.7" fill="#c8000a"/>
<circle cx="530.70" cy="315.59" r="3.7" fill="#006a1e"/>
<line x1="871.90" y1="120.60" x2="915.10" y2="120.60" stroke="#008c20" stroke-width="2.3" stroke-linecap="round"/>
<circle cx="893.4" cy="120.6" r="4.7" fill="#007f1c"/>
<text x="925.00" y="128.20" font-size="20" text-anchor="start" fill="#000" textLength="93.5" lengthAdjust="spacingAndGlyphs">pH 7.4/7.4</text>
<line x1="871.90" y1="149.00" x2="915.10" y2="149.00" stroke="#f00000" stroke-width="2.3" stroke-linecap="round"/>
<circle cx="893.4" cy="149.0" r="4.7" fill="#e00000"/>
<text x="925.00" y="156.10" font-size="20" text-anchor="start" fill="#000" textLength="93.5" lengthAdjust="spacingAndGlyphs">pH 7.4/6.0</text>
<line x1="871.90" y1="178.00" x2="915.10" y2="178.00" stroke="#0000f0" stroke-width="2.3" stroke-linecap="round"/>
<circle cx="893.4" cy="178.0" r="4.7" fill="#0000d8"/>
<text x="925.00" y="184.40" font-size="20" text-anchor="start" fill="#000" textLength="93.5" lengthAdjust="spacingAndGlyphs">pH 7.4/5.0</text>
<line x1="871.90" y1="206.20" x2="915.10" y2="206.20" stroke="#000000" stroke-width="2.3" stroke-linecap="round"/>
<path d="M893.4,201.60L897.8,206.20L893.4,210.80L889.0,206.20Z" fill="#000"/>
<text x="925.00" y="212.60" font-size="20" text-anchor="start" fill="#000" textLength="55.0" lengthAdjust="spacingAndGlyphs">hIL6R</text>
<text x="4.00" y="460.00" font-size="32" text-anchor="start" fill="#000" >b</text>
<line x1="124.30" y1="491.50" x2="124.30" y2="768.60" stroke="#3a3a3a" stroke-width="1.3" />
<line x1="123.70" y1="768.00" x2="739.60" y2="768.00" stroke="#3a3a3a" stroke-width="1.3" />
<line x1="121.70" y1="768.00" x2="124.30" y2="768.00" stroke="#3a3a3a" stroke-width="1.2" />
<text x="111.60" y="773.50" font-size="17.5" text-anchor="end" fill="#333" textLength="36.4" lengthAdjust="spacingAndGlyphs">-0.05</text>
<line x1="121.70" y1="733.50" x2="124.30" y2="733.50" stroke="#3a3a3a" stroke-width="1.2" />
<text x="111.60" y="739.00" font-size="17.5" text-anchor="end" fill="#333" textLength="30.1" lengthAdjust="spacingAndGlyphs">0.00</text>
<line x1="121.70" y1="699.00" x2="124.30" y2="699.00" stroke="#3a3a3a" stroke-width="1.2" />
<text x="111.60" y="704.50" font-size="17.5" text-anchor="end" fill="#333" textLength="30.1" lengthAdjust="spacingAndGlyphs">0.05</text>
<line x1="121.70" y1="664.50" x2="124.30" y2="664.50" stroke="#3a3a3a" stroke-width="1.2" />
<text x="111.60" y="670.00" font-size="17.5" text-anchor="end" fill="#333" textLength="30.1" lengthAdjust="spacingAndGlyphs">0.10</text>
<line x1="121.70" y1="630.00" x2="124.30" y2="630.00" stroke="#3a3a3a" stroke-width="1.2" />
<text x="111.60" y="635.50" font-size="17.5" text-anchor="end" fill="#333" textLength="30.1" lengthAdjust="spacingAndGlyphs">0.15</text>
<line x1="121.70" y1="595.50" x2="124.30" y2="595.50" stroke="#3a3a3a" stroke-width="1.2" />
<text x="111.60" y="601.00" font-size="17.5" text-anchor="end" fill="#333" textLength="30.1" lengthAdjust="spacingAndGlyphs">0.20</text>
<line x1="121.70" y1="561.00" x2="124.30" y2="561.00" stroke="#3a3a3a" stroke-width="1.2" />
<text x="111.60" y="566.50" font-size="17.5" text-anchor="end" fill="#333" textLength="30.1" lengthAdjust="spacingAndGlyphs">0.25</text>
<line x1="121.70" y1="526.50" x2="124.30" y2="526.50" stroke="#3a3a3a" stroke-width="1.2" />
<text x="111.60" y="532.00" font-size="17.5" text-anchor="end" fill="#333" textLength="30.1" lengthAdjust="spacingAndGlyphs">0.30</text>
<line x1="121.70" y1="492.00" x2="124.30" y2="492.00" stroke="#3a3a3a" stroke-width="1.2" />
<text x="111.60" y="497.50" font-size="17.5" text-anchor="end" fill="#333" textLength="30.1" lengthAdjust="spacingAndGlyphs">0.35</text>
<line x1="122.70" y1="750.75" x2="124.30" y2="750.75" stroke="#3a3a3a" stroke-width="1.2" />
<line x1="122.70" y1="716.25" x2="124.30" y2="716.25" stroke="#3a3a3a" stroke-width="1.2" />
<line x1="122.70" y1="681.75" x2="124.30" y2="681.75" stroke="#3a3a3a" stroke-width="1.2" />
<line x1="122.70" y1="647.25" x2="124.30" y2="647.25" stroke="#3a3a3a" stroke-width="1.2" />
<line x1="122.70" y1="612.75" x2="124.30" y2="612.75" stroke="#3a3a3a" stroke-width="1.2" />
<line x1="122.70" y1="578.25" x2="124.30" y2="578.25" stroke="#3a3a3a" stroke-width="1.2" />
<line x1="122.70" y1="543.75" x2="124.30" y2="543.75" stroke="#3a3a3a" stroke-width="1.2" />
<line x1="122.70" y1="509.25" x2="124.30" y2="509.25" stroke="#3a3a3a" stroke-width="1.2" />
<line x1="124.30" y1="765.80" x2="124.30" y2="770.20" stroke="#3a3a3a" stroke-width="1.2" />
<text x="123.60" y="785.90" font-size="17.5" text-anchor="middle" fill="#333" textLength="8.6" lengthAdjust="spacingAndGlyphs">0</text>
<line x1="212.13" y1="765.80" x2="212.13" y2="770.20" stroke="#3a3a3a" stroke-width="1.2" />
<text x="211.43" y="785.90" font-size="17.5" text-anchor="middle" fill="#333" textLength="25.1" lengthAdjust="spacingAndGlyphs">200</text>
<line x1="299.96" y1="765.80" x2="299.96" y2="770.20" stroke="#3a3a3a" stroke-width="1.2" />
<text x="299.26" y="785.90" font-size="17.5" text-anchor="middle" fill="#333" textLength="25.1" lengthAdjust="spacingAndGlyphs">400</text>
<line x1="387.78" y1="765.80" x2="387.78" y2="770.20" stroke="#3a3a3a" stroke-width="1.2" />
<text x="387.08" y="785.90" font-size="17.5" text-anchor="middle" fill="#333" textLength="25.1" lengthAdjust="spacingAndGlyphs">600</text>
<line x1="475.61" y1="765.80" x2="475.61" y2="770.20" stroke="#3a3a3a" stroke-width="1.2" />
<text x="474.91" y="785.90" font-size="17.5" text-anchor="middle" fill="#333" textLength="25.1" lengthAdjust="spacingAndGlyphs">800</text>
<line x1="563.44" y1="765.80" x2="563.44" y2="770.20" stroke="#3a3a3a" stroke-width="1.2" />
<text x="562.74" y="785.90" font-size="17.5" text-anchor="middle" fill="#333" textLength="33.7" lengthAdjust="spacingAndGlyphs">1000</text>
<line x1="651.27" y1="765.80" x2="651.27" y2="770.20" stroke="#3a3a3a" stroke-width="1.2" />
<text x="650.57" y="785.90" font-size="17.5" text-anchor="middle" fill="#333" textLength="33.7" lengthAdjust="spacingAndGlyphs">1200</text>
<line x1="739.10" y1="765.80" x2="739.10" y2="770.20" stroke="#3a3a3a" stroke-width="1.2" />
<text x="738.40" y="785.90" font-size="17.5" text-anchor="middle" fill="#333" textLength="33.7" lengthAdjust="spacingAndGlyphs">1400</text>
<line x1="168.21" y1="768.00" x2="168.21" y2="770.00" stroke="#3a3a3a" stroke-width="1.2" />
<line x1="256.04" y1="768.00" x2="256.04" y2="770.00" stroke="#3a3a3a" stroke-width="1.2" />
<line x1="343.87" y1="768.00" x2="343.87" y2="770.00" stroke="#3a3a3a" stroke-width="1.2" />
<line x1="431.70" y1="768.00" x2="431.70" y2="770.00" stroke="#3a3a3a" stroke-width="1.2" />
<line x1="519.53" y1="768.00" x2="519.53" y2="770.00" stroke="#3a3a3a" stroke-width="1.2" />
<line x1="607.35" y1="768.00" x2="607.35" y2="770.00" stroke="#3a3a3a" stroke-width="1.2" />
<line x1="695.18" y1="768.00" x2="695.18" y2="770.00" stroke="#3a3a3a" stroke-width="1.2" />
<text transform="translate(71.10,630.00) rotate(-90)" font-size="20.5" text-anchor="middle" fill="#000" stroke="#000" stroke-width="0.2" textLength="142" lengthAdjust="spacingAndGlyphs">Response [RU]</text>
<text x="407.00" y="813.70" font-size="20" text-anchor="start" fill="#000" stroke="#000" stroke-width="0.25">Time [s]</text>
<text x="154.70" y="475.90" font-size="23" text-anchor="start" fill="#000" >A5</text>
<path d="M172.8,729.54 L173.3,729.65 L173.8,729.36 L174.3,729.88 L174.8,729.24 L175.3,730.29 L175.8,730.54 L176.3,730.42 L176.8,729.66 L177.3,729.45 L177.8,730.36 L178.3,730.06 L178.8,731.16 L179.3,730.21 L179.8,729.18 L180.3,729.73 L180.8,728.36 L181.3,729.67 L181.8,730.58 L182.3,731.39 L182.8,730.22 L183.3,730.63 L183.8,731.99 L184.3,732.58 L184.8,732.40 L185.3,732.96 L185.8,733.56 L186.3,734.34 L186.8,733.80 L187.3,733.62 L187.8,733.13 L188.3,732.73 L188.8,731.82 L189.3,732.26 L189.8,732.48 L190.3,732.22 L190.8,732.88 L191.3,735.04 L191.8,733.44 L192.3,733.51 L192.8,733.54 L193.3,733.95 L193.8,734.22 L194.3,734.08 L194.8,733.98 L195.3,732.10 L195.8,732.97 L196.3,733.78 L196.8,733.85 L197.3,734.28 L197.8,734.04 L198.3,733.79 L198.8,734.86 L199.3,734.70 L199.8,734.50 L200.3,733.80 L200.8,733.45 L201.3,735.63 L201.8,734.46 L202.3,734.20 L202.8,735.24 L203.3,735.08 L203.8,735.09 L204.3,735.09 L204.8,735.67 L205.3,736.02 L205.8,735.33 L206.3,736.03 L206.8,735.08 L207.3,735.47 L207.8,736.67 L208.3,736.48 L208.8,737.66 L209.3,737.23 L209.8,738.36 L210.3,738.74 L210.8,738.71 L211.3,739.02" fill="none" stroke="#000" stroke-width="3.4" stroke-linejoin="round"/>
<path d="M211.3,739.02 L211.8,736.84 L212.3,733.91 L212.8,729.41 L213.3,723.27 L213.8,718.68 L214.3,713.31 L214.8,708.70 L215.3,702.38 L215.8,697.48 L216.3,692.72 L216.8,689.48 L217.3,685.95 L217.8,682.04 L218.3,679.00 L218.8,675.28 L219.3,673.68 L219.8,670.69 L220.3,668.97 L220.8,666.97 L221.3,664.55 L221.8,660.10 L222.3,657.29 L222.8,655.00 L223.3,652.41 L223.8,652.28 L224.3,651.20 L224.8,647.09 L225.3,646.14 L225.8,645.51 L226.3,643.24 L226.8,640.67 L227.3,638.84 L227.8,637.85 L228.3,636.63 L228.8,635.17 L229.3,634.41 L229.8,633.24 L230.3,631.74 L230.8,630.55 L231.3,627.16" fill="none" stroke="#000" stroke-width="2.8" stroke-linejoin="round"/>
<path d="M231.3,627.16 L231.8,626.50 L232.3,625.30 L232.8,623.78 L233.3,623.11 L233.8,621.71 L234.3,619.32 L234.8,619.82 L235.3,619.54 L235.8,617.49 L236.3,617.95 L236.8,616.42 L237.3,616.08 L237.8,612.50 L238.3,612.15 L238.8,611.19 L239.3,609.47 L239.8,610.26 L240.3,610.59 L240.8,608.74 L241.3,607.12 L241.8,608.13 L242.3,606.41 L242.8,605.45 L243.3,604.60 L243.8,604.46 L244.3,602.97 L244.8,603.06 L245.3,601.71 L245.8,601.37 L246.3,600.67 L246.8,601.10 L247.3,599.59 L247.8,599.08 L248.3,598.53 L248.8,599.85 L249.3,598.22 L249.8,598.24 L250.3,597.15 L250.8,595.84 L251.3,595.88 L251.8,596.56 L252.3,595.71 L252.8,594.70 L253.3,593.84 L253.8,593.25 L254.3,592.22 L254.8,592.50 L255.3,592.65 L255.8,591.57 L256.3,592.30 L256.8,592.08 L257.3,591.03 L257.8,588.76 L258.3,588.04 L258.8,586.64 L259.3,588.08 L259.8,586.64 L260.3,587.22 L260.8,587.85 L261.3,587.66 L261.8,587.54 L262.3,586.25 L262.8,585.16 L263.3,584.60 L263.8,584.57 L264.3,583.33 L264.8,583.02 L265.3,583.84 L265.8,582.25 L266.3,582.09 L266.8,581.03 L267.3,580.74 L267.8,580.79 L268.3,581.05 L268.8,581.17 L269.3,579.08 L269.8,580.05 L270.3,579.26 L270.8,579.49 L271.3,579.24 L271.8,576.55 L272.3,577.09 L272.8,576.60 L273.3,578.45 L273.8,578.02 L274.3,577.85 L274.8,576.76 L275.3,577.65 L275.8,577.51 L276.3,576.46 L276.8,576.56 L277.3,574.39 L277.8,575.46 L278.3,577.37 L278.8,576.00 L279.3,575.82 L279.8,576.04 L280.3,574.45 L280.8,574.96 L281.3,573.53 L281.8,572.92 L282.3,572.75 L282.8,573.57 L283.3,573.06 L283.8,572.57 L284.3,572.26 L284.8,570.95 L285.3,571.27 L285.8,570.24 L286.3,569.50 L286.8,568.79 L287.3,568.91 L287.8,568.28 L288.3,567.58 L288.8,567.46 L289.3,568.31 L289.8,569.47 L290.3,569.62 L290.8,568.71 L291.3,567.82 L291.8,568.53 L292.3,567.57 L292.8,567.49 L293.3,568.99 L293.8,567.86 L294.3,566.78 L294.8,565.78 L295.3,566.85 L295.8,566.69 L296.3,564.85 L296.8,564.94 L297.3,565.23 L297.8,565.19 L298.3,565.49 L298.8,566.57 L299.3,566.28 L299.8,564.27 L300.3,564.36 L300.8,565.54 L301.3,564.74 L301.8,563.28 L302.3,563.62 L302.8,564.55 L303.3,565.87 L303.8,563.74 L304.3,565.67 L304.8,563.81 L305.3,564.88 L305.8,564.91 L306.3,565.57 L306.8,564.12 L307.3,563.18 L307.8,563.60 L308.3,562.37 L308.8,561.66 L309.3,564.15 L309.8,563.50 L310.3,564.65 L310.8,562.99 L311.3,562.62 L311.8,564.05 L312.3,564.12 L312.8,563.12 L313.3,561.20 L313.8,561.23 L314.3,559.65 L314.8,559.44 L315.3,559.93 L315.8,559.47 L316.3,560.32 L316.8,559.76 L317.3,561.28 L317.8,561.17 L318.3,561.60 L318.8,561.75 L319.3,560.51 L319.8,559.94 L320.3,560.27 L320.8,559.07 L321.3,558.78 L321.8,557.94 L322.3,558.46 L322.8,560.23 L323.3,558.93 L323.8,558.77 L324.3,557.78 L324.8,557.05 L325.3,557.29 L325.8,558.39 L326.3,559.71 L326.8,559.09 L327.3,557.65 L327.8,558.24 L328.3,557.93 L328.8,557.84 L329.3,557.71 L329.8,557.53 L330.3,557.71 L330.8,556.28 L331.3,556.33 L331.8,554.89 L332.3,555.60 L332.8,554.35 L333.3,555.25 L333.8,555.23 L334.3,555.06 L334.8,555.44 L335.3,554.66 L335.8,554.32 L336.3,553.68 L336.8,555.14 L337.3,556.87 L337.8,556.14 L338.3,555.33 L338.8,555.74 L339.3,554.54 L339.8,555.02 L340.3,554.15 L340.8,552.92 L341.3,554.64 L341.8,556.04 L342.3,554.76 L342.8,554.25 L343.3,554.01 L343.8,554.47 L344.3,552.56 L344.8,552.25 L345.3,552.64 L345.8,553.31 L346.3,554.57 L346.8,554.02 L347.3,554.68 L347.8,553.34 L348.3,553.28 L348.8,551.91 L349.3,551.17 L349.8,552.73 L350.3,552.00 L350.8,552.32 L351.3,552.29 L351.8,551.59 L352.3,551.46 L352.8,551.50 L353.3,551.87 L353.8,552.19 L354.3,552.35 L354.8,551.07 L355.3,551.13 L355.8,550.71 L356.3,550.84 L356.8,552.35 L357.3,553.83 L357.8,553.16 L358.3,551.75 L358.8,551.58 L359.3,550.58 L359.8,550.45 L360.3,550.56 L360.8,549.97 L361.3,549.64 L361.8,550.30 L362.3,550.35 L362.8,550.21 L363.3,549.08 L363.8,551.01 L364.3,550.64 L364.8,552.34 L365.3,552.15 L365.8,552.51 L366.3,550.94 L366.8,551.31 L367.3,552.46 L367.8,550.44 L368.3,550.94 L368.8,551.23 L369.3,550.64 L369.8,551.32 L370.3,551.24 L370.8,550.16 L371.3,550.44 L371.8,548.55 L372.3,548.43 L372.8,548.52 L373.3,548.75 L373.8,548.76 L374.3,549.61 L374.8,548.19 L375.3,549.40 L375.8,549.91 L376.3,550.44 L376.8,549.48 L377.3,548.31 L377.8,549.68 L378.3,549.43 L378.8,548.19 L379.3,548.38 L379.8,550.42 L380.3,547.92 L380.8,549.87 L381.3,548.86 L381.8,549.07 L382.3,549.08 L382.8,548.00 L383.3,547.47 L383.8,548.90 L384.3,548.76 L384.8,547.42 L385.3,548.26 L385.8,547.60 L386.3,548.27 L386.8,547.39 L387.3,548.00 L387.8,546.97 L388.3,547.44 L388.8,547.15 L389.3,545.44 L389.8,545.86 L390.3,545.40 L390.8,546.03 L391.3,547.88 L391.8,546.02 L392.3,545.98 L392.8,547.16 L393.3,546.93 L393.8,548.50 L394.3,547.69 L394.8,547.32 L395.3,546.44 L395.8,547.70 L396.3,547.77 L396.8,547.07 L397.3,547.25 L397.8,546.68 L398.3,546.41 L398.8,547.63 L399.3,546.75 L399.8,545.95 L400.3,545.77 L400.8,546.78 L401.3,546.47 L401.8,546.41 L402.3,545.20 L402.8,546.14 L403.3,544.37 L403.8,543.66 L404.3,545.49 L404.8,545.70 L405.3,545.25 L405.8,546.27 L406.3,546.49 L406.8,545.95 L407.3,547.72 L407.8,547.00 L408.3,546.10 L408.8,546.75 L409.3,546.16 L409.8,545.58 L410.3,545.14 L410.8,544.90 L411.3,543.29 L411.8,545.01 L412.3,544.42 L412.8,544.59 L413.3,543.60 L413.8,544.03 L414.3,544.43 L414.8,545.43 L415.3,543.70 L415.8,544.36 L416.3,543.71 L416.8,543.79 L417.3,545.72 L417.8,545.02 L418.3,544.08 L418.8,544.85 L419.3,544.72 L419.8,545.08 L420.3,543.81 L420.8,545.68 L421.3,543.21 L421.8,543.77 L422.3,542.78 L422.8,542.84 L423.3,542.43 L423.8,542.63 L424.3,544.26 L424.8,543.69 L425.3,543.74 L425.8,544.05 L426.3,543.16 L426.8,543.97 L427.3,545.32 L427.8,545.09 L428.3,544.27 L428.8,543.81 L429.3,543.51 L429.8,543.94 L430.3,545.07 L430.8,544.47 L431.3,543.70 L431.8,544.37 L432.3,544.00 L432.8,543.91 L433.3,543.06 L433.8,542.94 L434.3,542.60 L434.8,545.04 L435.3,544.10 L435.8,543.72 L436.3,543.23 L436.8,543.11 L437.3,543.63 L437.8,543.91 L438.3,545.11 L438.8,544.88 L439.3,545.35 L439.8,544.38 L440.3,544.81 L440.8,542.85 L441.3,543.13 L441.8,543.29 L442.3,542.58 L442.8,541.95 L443.3,543.24 L443.8,543.01 L444.3,542.80 L444.8,542.88 L445.3,542.71 L445.8,543.43 L446.3,542.44 L446.8,542.37 L447.3,542.58 L447.8,543.38 L448.3,543.16 L448.8,542.80 L449.3,542.36 L449.8,543.05 L450.3,543.33 L450.8,543.15 L451.3,544.31 L451.8,544.59 L452.3,543.88 L452.8,543.93 L453.3,542.75 L453.8,542.08 L454.3,541.72 L454.8,542.08 L455.3,541.79 L455.8,542.57 L456.3,543.24 L456.8,541.90 L457.3,542.68 L457.8,541.35 L458.3,542.33 L458.8,542.17 L459.3,540.95 L459.8,541.58 L460.3,540.94 L460.8,541.70 L461.3,542.76 L461.8,543.90 L462.3,542.51 L462.8,542.38 L463.3,542.59 L463.8,543.29 L464.3,541.41 L464.8,542.86 L465.3,542.19 L465.8,541.98 L466.3,542.90 L466.8,543.67 L467.3,543.55 L467.8,544.33 L468.3,543.33 L468.8,544.11 L469.3,544.69 L469.8,543.87 L470.3,544.64 L470.8,543.85 L471.3,543.21 L471.8,542.48 L472.3,541.85 L472.8,542.25 L473.3,541.93 L473.8,542.39 L474.3,542.69 L474.8,542.02 L475.3,540.76 L475.8,541.08 L476.3,541.72" fill="none" stroke="#000" stroke-width="3.4" stroke-linejoin="round"/>
<path d="M476.3,541.72 L476.8,540.66 L477.3,529.84 L477.8,522.49" fill="none" stroke="#000" stroke-width="2.8" stroke-linejoin="round"/>
<path d="M477.8,522.49 L478.3,523.62 L478.8,523.39 L479.3,525.03 L479.8,524.63 L480.3,525.15 L480.8,526.89 L481.3,528.76 L481.8,529.02 L482.3,530.14 L482.8,532.79 L483.3,532.46 L483.8,532.84 L484.3,533.83 L484.8,533.57 L485.3,535.65 L485.8,537.77 L486.3,537.79 L486.8,536.39 L487.3,538.31 L487.8,539.74 L488.3,541.00 L488.8,541.52 L489.3,541.49 L489.8,541.04 L490.3,540.95 L490.8,540.95 L491.3,543.20 L491.8,543.52 L492.3,545.05 L492.8,545.41 L493.3,545.67 L493.8,546.44 L494.3,547.72 L494.8,548.88 L495.3,547.87 L495.8,548.69 L496.3,549.74 L496.8,550.01 L497.3,549.41 L497.8,551.22 L498.3,550.91 L498.8,550.49 L499.3,551.30 L499.8,551.17 L500.3,552.69 L500.8,553.23 L501.3,554.14 L501.8,555.17 L502.3,554.05 L502.8,555.48 L503.3,556.07 L503.8,556.71 L504.3,558.24 L504.8,558.29 L505.3,557.95 L505.8,558.65 L506.3,558.37 L506.8,558.10 L507.3,559.51 L507.8,559.43 L508.3,560.46 L508.8,560.44 L509.3,560.19 L509.8,560.37 L510.3,561.51 L510.8,563.62 L511.3,562.32 L511.8,564.40 L512.3,564.52 L512.8,564.97 L513.3,566.24 L513.8,567.19 L514.3,566.30 L514.8,568.79 L515.3,568.27 L515.8,569.81 L516.3,570.04 L516.8,571.20 L517.3,571.06 L517.8,572.13 L518.3,572.01 L518.8,572.40 L519.3,572.16 L519.8,572.57 L520.3,575.42 L520.8,575.03 L521.3,574.76 L521.8,576.74 L522.3,577.08 L522.8,575.52 L523.3,576.25 L523.8,576.08 L524.3,577.15 L524.8,578.19 L525.3,577.28 L525.8,577.93 L526.3,578.43 L526.8,578.40 L527.3,578.11 L527.8,578.17 L528.3,578.03 L528.8,578.34 L529.3,579.08 L529.8,579.69 L530.3,580.18 L530.8,579.28 L531.3,581.13 L531.8,581.01 L532.3,581.12 L532.8,580.62 L533.3,580.73 L533.8,581.24 L534.3,582.40 L534.8,582.85 L535.3,584.43 L535.8,585.61 L536.3,585.93 L536.8,584.73 L537.3,584.28 L537.8,585.29 L538.3,585.83 L538.8,586.89 L539.3,586.03 L539.8,587.70 L540.3,587.44 L540.8,588.33 L541.3,588.31 L541.8,588.36 L542.3,588.52 L542.8,588.51 L543.3,589.22 L543.8,588.37 L544.3,590.34 L544.8,590.66 L545.3,591.39 L545.8,590.94 L546.3,590.60 L546.8,591.74 L547.3,591.95 L547.8,590.56 L548.3,590.54 L548.8,590.85 L549.3,593.05 L549.8,592.88 L550.3,593.63 L550.8,592.44 L551.3,593.24 L551.8,594.84 L552.3,595.32 L552.8,594.44 L553.3,595.23 L553.8,595.52 L554.3,594.21 L554.8,594.95 L555.3,595.54 L555.8,594.12 L556.3,595.50 L556.8,596.94 L557.3,596.16 L557.8,595.92 L558.3,597.48 L558.8,598.52 L559.3,598.15 L559.8,599.49 L560.3,598.85 L560.8,599.90 L561.3,599.64 L561.8,600.01 L562.3,599.12 L562.8,600.20 L563.3,600.88 L563.8,600.80 L564.3,601.17 L564.8,600.65 L565.3,600.78 L565.8,600.95 L566.3,600.68 L566.8,601.47 L567.3,601.87 L567.8,602.29 L568.3,602.77 L568.8,604.08 L569.3,604.41 L569.8,604.65 L570.3,604.32 L570.8,605.72 L571.3,605.99 L571.8,605.25 L572.3,604.93 L572.8,606.05 L573.3,606.74 L573.8,606.59 L574.3,607.88 L574.8,606.90 L575.3,607.19 L575.8,606.81 L576.3,608.09 L576.8,607.62 L577.3,607.62 L577.8,607.73 L578.3,608.95 L578.8,607.82 L579.3,607.94 L579.8,606.72 L580.3,608.51 L580.8,608.33 L581.3,607.99 L581.8,607.74 L582.3,608.48 L582.8,608.52 L583.3,609.24 L583.8,610.86 L584.3,609.08 L584.8,609.92 L585.3,609.60 L585.8,610.62 L586.3,610.51 L586.8,611.43 L587.3,609.84 L587.8,611.11 L588.3,611.28 L588.8,611.93 L589.3,611.74 L589.8,611.90 L590.3,611.18 L590.8,611.89 L591.3,612.37 L591.8,612.59 L592.3,612.91 L592.8,613.90 L593.3,613.18 L593.8,613.02 L594.3,614.37 L594.8,614.67 L595.3,614.21 L595.8,613.86 L596.3,613.74 L596.8,613.66 L597.3,612.77 L597.8,614.12 L598.3,613.35 L598.8,613.04 L599.3,614.65 L599.8,615.27 L600.3,615.23 L600.8,616.34 L601.3,616.43 L601.8,616.58 L602.3,616.16 L602.8,615.85 L603.3,618.34 L603.8,617.97 L604.3,616.51 L604.8,616.87 L605.3,617.70 L605.8,618.31 L606.3,618.90 L606.8,618.91 L607.3,618.42 L607.8,618.29 L608.3,617.41 L608.8,618.40 L609.3,618.38 L609.8,620.58 L610.3,619.37 L610.8,618.27 L611.3,618.66 L611.8,618.77 L612.3,618.04 L612.8,617.99 L613.3,618.96 L613.8,618.79 L614.3,619.24 L614.8,619.09 L615.3,620.19 L615.8,619.51 L616.3,619.68 L616.8,618.86 L617.3,619.10 L617.8,620.11 L618.3,618.89 L618.8,619.89 L619.3,621.16 L619.8,620.38 L620.3,621.02 L620.8,620.68 L621.3,621.41 L621.8,622.56 L622.3,621.99 L622.8,621.35 L623.3,621.45 L623.8,622.61 L624.3,623.15 L624.8,623.34 L625.3,623.74 L625.8,622.86 L626.3,623.19 L626.8,622.25 L627.3,623.46 L627.8,622.00 L628.3,623.62 L628.8,624.18 L629.3,622.80 L629.8,622.38 L630.3,623.33 L630.8,622.91 L631.3,621.81 L631.8,622.97 L632.3,622.90 L632.8,623.87 L633.3,625.59 L633.8,625.15 L634.3,624.41 L634.8,624.96 L635.3,623.82 L635.8,623.61 L636.3,624.56 L636.8,624.90 L637.3,624.04 L637.8,626.49 L638.3,626.27 L638.8,626.37 L639.3,627.22 L639.8,626.78 L640.3,627.10 L640.8,626.91 L641.3,628.40 L641.8,627.23 L642.3,626.43 L642.8,625.86 L643.3,626.23 L643.8,626.56 L644.3,628.09 L644.8,627.25 L645.3,627.17 L645.8,627.05 L646.3,626.95 L646.8,626.50 L647.3,626.95 L647.8,626.21 L648.3,627.60 L648.8,627.79 L649.3,627.91 L649.8,627.76 L650.3,627.18 L650.8,629.87 L651.3,627.86 L651.8,629.95 L652.3,629.85 L652.8,630.17 L653.3,629.35 L653.8,629.19 L654.3,630.73 L654.8,630.22 L655.3,630.11 L655.8,630.98 L656.3,630.79 L656.8,632.23 L657.3,631.31 L657.8,631.28 L658.3,630.61 L658.8,631.19 L659.3,631.33 L659.8,629.24 L660.3,630.52 L660.8,630.49 L661.3,631.96 L661.8,631.90 L662.3,631.41 L662.8,631.85 L663.3,632.62 L663.8,632.65 L664.3,633.33 L664.8,633.48 L665.3,632.53 L665.8,632.92 L666.3,632.54 L666.8,631.87 L667.3,633.24 L667.8,632.33 L668.3,633.00 L668.8,633.61 L669.3,633.29 L669.8,632.74 L670.3,632.42 L670.8,633.63 L671.3,633.67 L671.8,634.02 L672.3,634.12 L672.8,633.82 L673.3,633.98 L673.8,632.57 L674.3,634.40 L674.8,634.02 L675.3,634.26 L675.8,634.95 L676.3,634.68 L676.8,632.55 L677.3,633.51 L677.8,632.78 L678.3,634.19 L678.8,635.94 L679.3,634.48 L679.8,634.91 L680.3,633.94 L680.8,635.13 L681.3,635.15 L681.8,635.88 L682.3,634.93 L682.8,636.23 L683.3,634.61 L683.8,634.74 L684.3,635.77 L684.8,635.62 L685.3,634.99 L685.8,635.48 L686.3,634.49 L686.8,635.37 L687.3,635.69 L687.8,635.22 L688.3,635.62 L688.8,636.21 L689.3,636.71 L689.8,637.26 L690.3,637.55 L690.8,637.33 L691.3,637.12 L691.8,637.58 L692.3,638.12 L692.8,636.46 L693.3,637.16 L693.8,637.34 L694.3,635.78 L694.8,635.76 L695.3,635.21 L695.8,635.25 L696.3,635.19 L696.8,636.28 L697.3,635.09 L697.8,637.17 L698.3,638.13 L698.8,637.43 L699.3,636.20 L699.8,635.98 L700.3,635.75 L700.8,636.43 L701.3,636.31 L701.8,636.57 L702.3,636.40 L702.8,636.79 L703.3,636.18 L703.8,636.56 L704.3,638.00 L704.8,638.42 L705.3,637.32 L705.8,637.14 L706.3,636.08 L706.8,635.96 L707.3,637.84 L707.8,637.42 L708.3,637.09 L708.8,637.63 L709.3,638.15 L709.8,638.67 L710.3,637.87 L710.8,637.99 L711.3,637.06 L711.8,639.08 L712.3,636.99 L712.8,636.95 L713.3,636.79 L713.8,636.53 L714.3,637.83 L714.8,640.04 L715.3,638.72 L715.8,639.87 L716.3,638.66 L716.8,638.45 L717.3,638.22 L717.8,638.57 L718.3,638.34 L718.8,639.62 L719.3,638.07 L719.8,639.20 L720.3,639.40 L720.8,638.63 L721.3,639.87 L721.8,640.65 L722.3,639.26 L722.8,640.03 L723.3,641.10 L723.8,638.80 L724.3,640.04 L724.8,641.32 L725.3,641.18 L725.8,641.32 L726.3,639.54 L726.8,639.91 L727.3,639.00 L727.8,638.84 L728.3,639.58 L728.8,639.38 L729.3,639.20 L729.8,638.29 L730.3,639.26 L730.8,639.53 L731.3,639.34 L731.5,639.13" fill="none" stroke="#000" stroke-width="3.4" stroke-linejoin="round"/>
<path d="M174.3,729.9V725.5M180.3,729.7V724.8M181.8,730.6V726.8M187.8,733.1V728.8M188.3,732.7V738.1M189.3,732.3V737.3M189.8,732.5V738.0M192.8,733.5V728.9M193.3,733.9V729.0M197.8,734.0V730.2M199.8,734.5V738.1M202.8,735.2V739.1M203.8,735.1V730.2M205.3,736.0V732.8M214.8,708.7V713.7M215.8,697.5V701.2M229.8,633.2V628.2M231.3,627.2V631.3M233.3,623.1V628.3M234.3,619.3V623.6M241.3,607.1V612.1M241.8,608.1V613.1M242.3,606.4V611.8M243.3,604.6V599.5M247.8,599.1V604.4M253.3,593.8V589.7M258.8,586.6V592.1M267.3,580.7V584.2M269.3,579.1V584.4M273.8,578.0V581.7M274.8,576.8V580.6M278.3,577.4V571.9M294.3,566.8V570.6M296.8,564.9V568.3M300.8,565.5V569.7M302.8,564.5V569.9M308.3,562.4V559.1M311.3,562.6V566.4M313.8,561.2V557.5M316.3,560.3V564.2M316.8,559.8V564.7M320.3,560.3V563.6M321.3,558.8V563.4M322.3,558.5V554.3M322.8,560.2V565.7M323.3,558.9V564.3M328.8,557.8V553.4M329.3,557.7V554.2M330.8,556.3V559.7M334.3,555.1V558.8M344.3,552.6V556.9M344.8,552.2V557.3M350.8,552.3V557.5M351.3,552.3V549.0M352.3,551.5V546.6M354.3,552.4V557.6M366.3,550.9V556.0M368.3,550.9V547.6M369.8,551.3V554.6M373.3,548.8V552.3M374.3,549.6V545.2M376.8,549.5V554.0M382.8,548.0V543.5M385.8,547.6V552.0M391.8,546.0V550.3M393.3,546.9V550.6M393.8,548.5V544.3M396.8,547.1V550.8M400.8,546.8V542.9M401.8,546.4V542.4M403.3,544.4V549.6M405.8,546.3V550.6M407.8,547.0V542.8M410.8,544.9V550.1M412.8,544.6V540.4M413.3,543.6V547.9M419.8,545.1V549.2M420.8,545.7V540.5M423.8,542.6V545.9M425.8,544.1V549.6M426.3,543.2V548.1M428.3,544.3V549.9M431.3,543.7V548.6M432.3,544.0V549.3M432.8,543.9V539.6M433.8,542.9V537.6M436.8,543.1V539.3M438.3,545.1V549.7M440.3,544.8V549.3M447.8,543.4V538.7M450.8,543.1V547.1M451.3,544.3V549.8M455.3,541.8V537.6M457.3,542.7V546.8M459.3,541.0V545.1M463.3,542.6V546.4M467.8,544.3V549.2M468.8,544.1V549.5M471.3,543.2V538.0M480.3,525.1V528.8M480.8,526.9V523.6M485.8,537.8V533.1M487.8,539.7V544.5M488.3,541.0V545.0M491.3,543.2V546.9M492.3,545.1V549.6M493.3,545.7V549.0M493.8,546.4V549.8M494.8,548.9V543.6M510.8,563.6V567.8M511.8,564.4V560.7M514.3,566.3V571.1M525.3,577.3V572.5M526.8,578.4V583.4M527.3,578.1V582.7M530.8,579.3V575.8M535.8,585.6V580.3M540.8,588.3V591.6M550.3,593.6V596.8M556.8,596.9V602.0M561.8,600.0V604.2M565.3,600.8V596.6M567.3,601.9V597.7M569.3,604.4V600.3M570.3,604.3V599.3M571.8,605.2V610.3M573.8,606.6V611.6M574.8,606.9V610.9M578.8,607.8V603.2M584.8,609.9V614.8M594.8,614.7V618.0M597.8,614.1V617.3M601.8,616.6V622.1M602.8,615.8V620.6M604.3,616.5V611.4M604.8,616.9V620.3M606.8,618.9V624.3M616.3,619.7V623.0M618.3,618.9V623.0M620.3,621.0V616.2M620.8,620.7V624.7M622.3,622.0V625.3M627.3,623.5V628.1M628.8,624.2V628.8M629.3,622.8V627.3M629.8,622.4V617.9M631.3,621.8V625.8M632.3,622.9V617.6M637.3,624.0V619.3M638.3,626.3V620.8M639.3,627.2V623.2M640.3,627.1V621.8M642.8,625.9V621.7M644.8,627.3V621.8M645.8,627.0V631.2M650.8,629.9V633.8M656.3,630.8V625.7M657.3,631.3V636.0M662.3,631.4V627.6M664.3,633.3V636.8M665.8,632.9V637.7M666.3,632.5V628.6M671.3,633.7V637.3M679.3,634.5V639.6M686.3,634.5V638.0M687.3,635.7V631.0M688.8,636.2V631.1M689.8,637.3V633.3M693.3,637.2V631.7M703.3,636.2V641.3M706.3,636.1V640.5M706.8,636.0V640.5M707.8,637.4V633.5M710.8,638.0V641.3M713.8,636.5V639.9M714.3,637.8V633.9M717.8,638.6V644.2M718.8,639.6V636.3M721.3,639.9V635.8M722.8,640.0V645.5M729.8,638.3V632.7" fill="none" stroke="#000" stroke-width="1.4" stroke-linecap="round"/>
<path d="M172.8,730.47 L173.3,730.23 L173.8,729.88 L174.3,729.23 L174.8,730.25 L175.3,729.99 L175.8,732.28 L176.3,731.32 L176.8,728.97 L177.3,729.68 L177.8,730.66 L178.3,731.04 L178.8,731.14 L179.3,730.26 L179.8,731.66 L180.3,731.22 L180.8,732.06 L181.3,731.24 L181.8,730.37 L182.3,732.43 L182.8,729.95 L183.3,730.63 L183.8,731.34 L184.3,731.61 L184.8,732.71 L185.3,732.35 L185.8,732.14 L186.3,733.34 L186.8,732.81 L187.3,732.94 L187.8,732.43 L188.3,732.20 L188.8,733.36 L189.3,733.27 L189.8,733.20 L190.3,732.96 L190.8,733.38 L191.3,732.17 L191.8,732.15 L192.3,733.04 L192.8,732.22 L193.3,733.32 L193.8,732.59 L194.3,733.21 L194.8,734.35 L195.3,735.30 L195.8,735.16 L196.3,735.12 L196.8,736.06 L197.3,735.66 L197.8,736.39 L198.3,737.36 L198.8,735.74 L199.3,736.27 L199.8,735.99 L200.3,732.99 L200.8,733.48 L201.3,734.09 L201.8,735.11 L202.3,735.27 L202.8,736.20 L203.3,737.92 L203.8,736.13 L204.3,737.74 L204.8,738.63 L205.3,737.37 L205.8,736.25 L206.3,737.94 L206.8,737.13 L207.3,736.96 L207.8,737.29 L208.3,736.46 L208.8,737.16 L209.3,737.00 L209.8,738.40 L210.3,737.94 L210.8,737.28" fill="none" stroke="#a9a9a9" stroke-width="4.0" stroke-linejoin="round"/>
<path d="M210.8,737.28 L211.3,736.57 L211.8,733.80 L212.3,729.48 L212.8,725.55 L213.3,718.57 L213.8,711.88 L214.3,707.93 L214.8,702.86 L215.3,697.36 L215.8,692.07 L216.3,688.85 L216.8,685.88 L217.3,683.12 L217.8,679.48 L218.3,677.55 L218.8,675.03 L219.3,671.74 L219.8,667.25 L220.3,664.93 L220.8,662.89 L221.3,660.56 L221.8,658.76 L222.3,657.12 L222.8,655.45 L223.3,652.45 L223.8,650.00 L224.3,648.82 L224.8,645.96 L225.3,643.41 L225.8,641.69 L226.3,639.77 L226.8,635.10 L227.3,633.43 L227.8,630.64 L228.3,628.38 L228.8,626.68 L229.3,623.98 L229.8,621.56 L230.3,619.97 L230.8,619.39 L231.3,617.44" fill="none" stroke="#a9a9a9" stroke-width="2.2" stroke-linejoin="round"/>
<path d="M231.3,617.44 L231.8,616.45 L232.3,614.69 L232.8,612.60 L233.3,612.26 L233.8,610.94 L234.3,609.38 L234.8,607.85 L235.3,608.57 L235.8,607.46 L236.3,606.01 L236.8,605.93 L237.3,604.72 L237.8,603.98 L238.3,603.89 L238.8,602.27 L239.3,601.96 L239.8,600.11 L240.3,600.77 L240.8,598.57 L241.3,597.31 L241.8,597.44 L242.3,596.80 L242.8,595.55 L243.3,595.78 L243.8,594.59 L244.3,594.34 L244.8,591.78 L245.3,591.83 L245.8,591.40 L246.3,591.35 L246.8,591.62 L247.3,590.97 L247.8,591.09 L248.3,589.96 L248.8,587.55 L249.3,586.05 L249.8,587.05 L250.3,587.16 L250.8,586.71 L251.3,586.24 L251.8,585.10 L252.3,585.95 L252.8,585.19 L253.3,585.78 L253.8,584.84 L254.3,582.77 L254.8,583.02 L255.3,582.94 L255.8,581.94 L256.3,582.53 L256.8,581.84 L257.3,581.92 L257.8,581.21 L258.3,580.81 L258.8,580.44 L259.3,579.66 L259.8,580.52 L260.3,580.56 L260.8,579.27 L261.3,579.59 L261.8,579.00 L262.3,577.97 L262.8,578.23 L263.3,576.82 L263.8,576.95 L264.3,575.89 L264.8,575.95 L265.3,575.63 L265.8,574.73 L266.3,574.59 L266.8,574.24 L267.3,574.49 L267.8,573.77 L268.3,573.42 L268.8,574.17 L269.3,573.85 L269.8,571.86 L270.3,571.79 L270.8,572.95 L271.3,571.65 L271.8,571.81 L272.3,572.02 L272.8,572.03 L273.3,570.67 L273.8,570.21 L274.3,569.29 L274.8,569.12 L275.3,569.16 L275.8,569.20 L276.3,569.10 L276.8,567.92 L277.3,568.70 L277.8,566.36 L278.3,566.14 L278.8,566.05 L279.3,566.05 L279.8,565.82 L280.3,565.06 L280.8,565.02 L281.3,565.18 L281.8,566.23 L282.3,563.93 L282.8,564.22 L283.3,563.01 L283.8,564.59 L284.3,563.56 L284.8,563.71 L285.3,563.25 L285.8,563.14 L286.3,562.54 L286.8,563.47 L287.3,563.52 L287.8,562.87 L288.3,562.73 L288.8,561.91 L289.3,562.31 L289.8,562.24 L290.3,562.57 L290.8,560.66 L291.3,561.40 L291.8,560.71 L292.3,560.48 L292.8,561.77 L293.3,560.76 L293.8,559.92 L294.3,559.40 L294.8,559.93 L295.3,560.43 L295.8,559.32 L296.3,560.20 L296.8,559.73 L297.3,558.04 L297.8,557.12 L298.3,557.52 L298.8,557.09 L299.3,558.12 L299.8,557.82 L300.3,557.08 L300.8,555.83 L301.3,557.14 L301.8,557.04 L302.3,556.06 L302.8,556.26 L303.3,554.98 L303.8,555.38 L304.3,555.77 L304.8,556.23 L305.3,554.97 L305.8,554.48 L306.3,554.00 L306.8,554.56 L307.3,554.51 L307.8,554.92 L308.3,555.79 L308.8,555.75 L309.3,553.77 L309.8,553.91 L310.3,555.02 L310.8,553.70 L311.3,554.01 L311.8,554.73 L312.3,554.09 L312.8,552.86 L313.3,552.86 L313.8,552.23 L314.3,551.91 L314.8,551.50 L315.3,552.27 L315.8,551.66 L316.3,552.15 L316.8,551.65 L317.3,550.43 L317.8,551.45 L318.3,549.77 L318.8,550.20 L319.3,550.60 L319.8,550.17 L320.3,550.80 L320.8,551.65 L321.3,550.78 L321.8,550.84 L322.3,549.54 L322.8,550.23 L323.3,551.02 L323.8,550.00 L324.3,551.00 L324.8,551.26 L325.3,551.34 L325.8,550.88 L326.3,549.26 L326.8,549.90 L327.3,550.22 L327.8,549.05 L328.3,549.77 L328.8,549.82 L329.3,549.22 L329.8,548.67 L330.3,548.51 L330.8,548.94 L331.3,548.74 L331.8,548.86 L332.3,546.69 L332.8,548.82 L333.3,547.41 L333.8,545.93 L334.3,546.21 L334.8,545.89 L335.3,547.29 L335.8,546.90 L336.3,547.26 L336.8,546.89 L337.3,548.44 L337.8,548.43 L338.3,548.88 L338.8,547.75 L339.3,547.67 L339.8,546.75 L340.3,547.25 L340.8,547.61 L341.3,545.62 L341.8,545.06 L342.3,545.03 L342.8,544.75 L343.3,544.91 L343.8,544.99 L344.3,544.69 L344.8,545.23 L345.3,545.83 L345.8,544.64 L346.3,544.63 L346.8,545.11 L347.3,545.33 L347.8,544.96 L348.3,545.69 L348.8,546.11 L349.3,546.48 L349.8,545.78 L350.3,546.94 L350.8,547.43 L351.3,545.94 L351.8,545.21 L352.3,546.19 L352.8,545.07 L353.3,545.01 L353.8,544.76 L354.3,544.89 L354.8,543.86 L355.3,542.99 L355.8,543.20 L356.3,541.76 L356.8,544.47 L357.3,545.79 L357.8,545.80 L358.3,545.19 L358.8,545.31 L359.3,545.41 L359.8,545.59 L360.3,545.11 L360.8,543.63 L361.3,543.85 L361.8,543.42 L362.3,542.37 L362.8,541.93 L363.3,541.85 L363.8,543.65 L364.3,542.78 L364.8,543.88 L365.3,543.99 L365.8,542.88 L366.3,542.56 L366.8,542.01 L367.3,543.13 L367.8,542.13 L368.3,541.67 L368.8,542.21 L369.3,539.75 L369.8,541.07 L370.3,541.82 L370.8,541.61 L371.3,542.14 L371.8,542.21 L372.3,542.68 L372.8,541.53 L373.3,541.37 L373.8,541.48 L374.3,541.02 L374.8,541.88 L375.3,542.46 L375.8,541.69 L376.3,541.10 L376.8,540.38 L377.3,540.42 L377.8,542.00 L378.3,541.30 L378.8,540.82 L379.3,540.40 L379.8,540.19 L380.3,540.20 L380.8,540.14 L381.3,539.95 L381.8,541.37 L382.3,540.36 L382.8,541.80 L383.3,541.89 L383.8,540.91 L384.3,540.66 L384.8,540.29 L385.3,539.42 L385.8,538.67 L386.3,538.51 L386.8,539.22 L387.3,539.06 L387.8,539.82 L388.3,540.08 L388.8,536.92 L389.3,538.03 L389.8,536.75 L390.3,537.91 L390.8,537.17 L391.3,538.18 L391.8,539.16 L392.3,537.86 L392.8,537.93 L393.3,537.57 L393.8,537.28 L394.3,537.68 L394.8,538.28 L395.3,537.68 L395.8,537.40 L396.3,540.23 L396.8,538.76 L397.3,537.46 L397.8,536.21 L398.3,537.06 L398.8,536.78 L399.3,537.03 L399.8,536.52 L400.3,537.37 L400.8,537.48 L401.3,535.63 L401.8,536.08 L402.3,536.07 L402.8,537.60 L403.3,537.43 L403.8,537.29 L404.3,537.03 L404.8,537.46 L405.3,538.89 L405.8,537.40 L406.3,537.63 L406.8,537.41 L407.3,536.88 L407.8,537.19 L408.3,536.83 L408.8,536.91 L409.3,536.40 L409.8,537.04 L410.3,537.58 L410.8,537.16 L411.3,537.14 L411.8,538.50 L412.3,536.92 L412.8,537.11 L413.3,537.18 L413.8,536.66 L414.3,536.84 L414.8,537.60 L415.3,536.50 L415.8,537.64 L416.3,537.37 L416.8,536.90 L417.3,536.21 L417.8,536.02 L418.3,536.27 L418.8,535.58 L419.3,535.76 L419.8,537.39 L420.3,537.91 L420.8,538.25 L421.3,536.83 L421.8,537.10 L422.3,535.69 L422.8,536.03 L423.3,537.63 L423.8,535.97 L424.3,536.35 L424.8,536.90 L425.3,535.50 L425.8,535.35 L426.3,535.35 L426.8,535.17 L427.3,536.00 L427.8,537.02 L428.3,534.83 L428.8,534.67 L429.3,534.29 L429.8,534.27 L430.3,533.64 L430.8,534.51 L431.3,534.21 L431.8,533.50 L432.3,534.12 L432.8,534.60 L433.3,534.13 L433.8,533.87 L434.3,535.19 L434.8,535.57 L435.3,534.74 L435.8,533.71 L436.3,534.67 L436.8,533.10 L437.3,533.44 L437.8,533.29 L438.3,534.35 L438.8,533.19 L439.3,532.21 L439.8,532.20 L440.3,533.89 L440.8,534.24 L441.3,532.93 L441.8,534.07 L442.3,534.68 L442.8,533.72 L443.3,534.04 L443.8,534.95 L444.3,535.18 L444.8,534.97 L445.3,534.91 L445.8,534.58 L446.3,534.60 L446.8,533.53 L447.3,533.71 L447.8,532.94 L448.3,533.64 L448.8,533.99 L449.3,534.18 L449.8,535.31 L450.3,533.78 L450.8,533.57 L451.3,533.93 L451.8,533.38 L452.3,532.71 L452.8,534.40 L453.3,534.17 L453.8,533.50 L454.3,532.65 L454.8,533.07 L455.3,533.53 L455.8,534.25 L456.3,532.96 L456.8,531.95 L457.3,532.73 L457.8,533.02 L458.3,533.72 L458.8,533.88 L459.3,535.00 L459.8,534.33 L460.3,533.80 L460.8,532.24 L461.3,533.23 L461.8,534.49 L462.3,533.47 L462.8,534.47 L463.3,534.55 L463.8,534.78 L464.3,534.40 L464.8,533.17 L465.3,533.21 L465.8,532.37 L466.3,531.50 L466.8,532.55 L467.3,533.92 L467.8,535.15 L468.3,533.89 L468.8,533.83 L469.3,532.97 L469.8,534.07 L470.3,533.92 L470.8,533.18 L471.3,533.77 L471.8,533.60 L472.3,532.57 L472.8,533.28 L473.3,533.71 L473.8,532.96 L474.3,532.93" fill="none" stroke="#a9a9a9" stroke-width="4.0" stroke-linejoin="round"/>
<path d="M474.3,532.93 L474.8,534.15 L475.3,509.81 L475.8,514.80 L476.3,520.79 L476.8,527.80 L477.3,535.57 L477.8,542.06 L478.3,546.93 L478.8,551.21 L479.3,557.56 L479.8,562.71 L480.3,566.60 L480.8,570.16 L481.3,573.55 L481.8,576.45 L482.3,580.23 L482.8,582.75 L483.3,586.46 L483.8,588.68 L484.3,591.06 L484.8,594.71 L485.3,597.29 L485.8,600.39 L486.3,602.35 L486.8,602.87 L487.3,606.00 L487.8,608.00 L488.3,611.52 L488.8,613.05 L489.3,613.93 L489.8,617.12 L490.3,620.20 L490.8,622.11 L491.3,623.45 L491.8,627.00 L492.3,627.87 L492.8,629.63 L493.3,631.24 L493.8,632.90 L494.3,636.14 L494.8,637.31 L495.3,639.64 L495.8,641.53 L496.3,641.90 L496.8,642.96 L497.3,644.89 L497.8,646.71 L498.3,648.44 L498.8,648.07 L499.3,650.80 L499.8,652.69 L500.3,654.08 L500.8,654.86 L501.3,656.51 L501.8,657.37 L502.3,659.59" fill="none" stroke="#a9a9a9" stroke-width="2.2" stroke-linejoin="round"/>
<path d="M502.3,659.59 L502.8,660.49 L503.3,662.05 L503.8,662.77 L504.3,665.11 L504.8,664.94 L505.3,664.91 L505.8,667.61 L506.3,667.78 L506.8,669.35 L507.3,669.59 L507.8,670.79 L508.3,671.39 L508.8,672.47 L509.3,673.49 L509.8,674.57 L510.3,675.14 L510.8,677.21 L511.3,677.36 L511.8,676.89 L512.3,678.36 L512.8,678.89 L513.3,680.43 L513.8,681.63 L514.3,680.40 L514.8,682.36 L515.3,682.32 L515.8,682.31 L516.3,683.00 L516.8,680.49 L517.3,681.60 L517.8,683.67 L518.3,682.93 L518.8,683.68 L519.3,684.86 L519.8,686.11 L520.3,687.53 L520.8,686.36 L521.3,686.84 L521.8,687.64 L522.3,687.44 L522.8,687.60 L523.3,689.43 L523.8,690.95 L524.3,690.86 L524.8,688.73 L525.3,689.58 L525.8,690.53 L526.3,690.07 L526.8,690.87 L527.3,693.12 L527.8,692.89 L528.3,691.89 L528.8,693.01 L529.3,692.80 L529.8,692.55 L530.3,693.15 L530.8,693.73 L531.3,694.41 L531.8,693.86 L532.3,694.21 L532.8,694.34 L533.3,694.75 L533.8,696.19 L534.3,696.69 L534.8,696.17 L535.3,695.98 L535.8,698.11 L536.3,698.52 L536.8,698.21 L537.3,698.70 L537.8,698.05 L538.3,696.79 L538.8,697.98 L539.3,698.04 L539.8,698.52 L540.3,699.17 L540.8,699.35 L541.3,698.62 L541.8,699.47 L542.3,700.44 L542.8,700.79 L543.3,701.27 L543.8,699.87 L544.3,699.07 L544.8,701.19 L545.3,702.64 L545.8,702.42 L546.3,702.14 L546.8,701.05 L547.3,702.32 L547.8,703.01 L548.3,701.51 L548.8,702.12 L549.3,703.58 L549.8,703.17 L550.3,702.91 L550.8,703.88 L551.3,702.13 L551.8,704.11 L552.3,704.01 L552.8,703.50 L553.3,704.78 L553.8,706.00 L554.3,704.85 L554.8,706.27 L555.3,705.41 L555.8,705.24 L556.3,706.03 L556.8,704.97 L557.3,705.27 L557.8,705.42 L558.3,705.70 L558.8,704.76 L559.3,705.11 L559.8,705.51 L560.3,704.78 L560.8,705.16 L561.3,704.90 L561.8,706.52 L562.3,705.61 L562.8,705.90 L563.3,706.87 L563.8,706.82 L564.3,707.69 L564.8,707.59 L565.3,707.65 L565.8,707.06 L566.3,707.84 L566.8,708.24 L567.3,708.70 L567.8,708.09 L568.3,706.57 L568.8,708.42 L569.3,709.55 L569.8,708.82 L570.3,708.89 L570.8,708.61 L571.3,707.86 L571.8,708.28 L572.3,708.70 L572.8,708.34 L573.3,707.71 L573.8,708.13 L574.3,709.31 L574.8,708.35 L575.3,709.32 L575.8,707.70 L576.3,708.20 L576.8,709.02 L577.3,708.44 L577.8,708.14 L578.3,709.46 L578.8,708.32 L579.3,709.86 L579.8,710.40 L580.3,710.78 L580.8,710.75 L581.3,709.44 L581.8,709.46 L582.3,709.70 L582.8,711.06 L583.3,710.88 L583.8,710.29 L584.3,711.28 L584.8,712.19 L585.3,711.79 L585.8,712.56 L586.3,712.98 L586.8,713.30 L587.3,712.80 L587.8,713.20 L588.3,712.18 L588.8,711.99 L589.3,713.09 L589.8,713.34 L590.3,712.37 L590.8,712.78 L591.3,712.20 L591.8,712.38 L592.3,711.00 L592.8,710.96 L593.3,711.38 L593.8,710.74 L594.3,711.03 L594.8,712.46 L595.3,713.49 L595.8,714.01 L596.3,713.95 L596.8,713.26 L597.3,712.56 L597.8,712.07 L598.3,713.02 L598.8,711.27 L599.3,711.98 L599.8,712.48 L600.3,712.61 L600.8,712.93 L601.3,713.68 L601.8,713.03 L602.3,712.66 L602.8,712.10 L603.3,712.19 L603.8,714.20 L604.3,714.40 L604.8,714.59 L605.3,713.33 L605.8,715.04 L606.3,714.55 L606.8,714.51 L607.3,714.79 L607.8,713.35 L608.3,714.17 L608.8,714.84 L609.3,714.74 L609.8,715.05 L610.3,714.66 L610.8,714.44 L611.3,715.19 L611.8,715.14 L612.3,714.71 L612.8,713.89 L613.3,713.98 L613.8,713.90 L614.3,714.15 L614.8,714.51 L615.3,716.29 L615.8,714.33 L616.3,714.97 L616.8,712.97 L617.3,713.41 L617.8,713.81 L618.3,713.07 L618.8,712.93 L619.3,713.86 L619.8,715.33 L620.3,714.82 L620.8,714.74 L621.3,716.86 L621.8,715.98 L622.3,715.80 L622.8,717.17 L623.3,716.99 L623.8,717.04 L624.3,717.24 L624.8,717.05 L625.3,716.88 L625.8,716.53 L626.3,715.91 L626.8,716.85 L627.3,716.77 L627.8,716.33 L628.3,715.09 L628.8,716.50 L629.3,716.02 L629.8,717.11 L630.3,717.07 L630.8,717.06 L631.3,715.74 L631.8,717.17 L632.3,717.51 L632.8,718.11 L633.3,718.21 L633.8,718.80 L634.3,718.65 L634.8,719.32 L635.3,718.63 L635.8,719.08 L636.3,719.63 L636.8,719.59 L637.3,720.07 L637.8,719.54 L638.3,718.25 L638.8,718.67 L639.3,718.85 L639.8,718.89 L640.3,718.43 L640.8,719.74 L641.3,718.62 L641.8,718.11 L642.3,718.99 L642.8,718.71 L643.3,717.59 L643.8,718.25 L644.3,717.90 L644.8,717.18 L645.3,718.34 L645.8,718.62 L646.3,719.65 L646.8,720.21 L647.3,720.13 L647.8,720.06 L648.3,720.50 L648.8,719.27 L649.3,719.73 L649.8,719.55 L650.3,719.39 L650.8,718.59 L651.3,718.04 L651.8,718.06 L652.3,717.73 L652.8,719.12 L653.3,719.06 L653.8,718.81 L654.3,719.58 L654.8,719.41 L655.3,719.44 L655.8,719.01 L656.3,718.32 L656.8,717.25 L657.3,716.57 L657.8,718.94 L658.3,717.51 L658.8,718.82 L659.3,720.48 L659.8,720.86 L660.3,720.98 L660.8,721.65 L661.3,721.22 L661.8,722.79 L662.3,721.34 L662.8,720.30 L663.3,720.76 L663.8,719.70 L664.3,719.59 L664.8,718.93 L665.3,720.62 L665.8,719.98 L666.3,719.73 L666.8,719.27 L667.3,720.14 L667.8,720.14 L668.3,719.92 L668.8,719.27 L669.3,718.53 L669.8,718.98 L670.3,719.28 L670.8,721.48 L671.3,722.28 L671.8,723.01 L672.3,722.02 L672.8,721.40 L673.3,720.69 L673.8,721.01 L674.3,718.66 L674.8,719.47 L675.3,721.31 L675.8,721.70 L676.3,721.71 L676.8,721.51 L677.3,720.16 L677.8,720.96 L678.3,720.45 L678.8,721.44 L679.3,722.63 L679.8,721.94 L680.3,721.43 L680.8,720.83 L681.3,721.05 L681.8,719.88 L682.3,720.57 L682.8,720.92 L683.3,721.25 L683.8,720.56 L684.3,720.71 L684.8,720.20 L685.3,721.55 L685.8,720.68 L686.3,720.61 L686.8,721.20 L687.3,720.27 L687.8,719.94 L688.3,720.05 L688.8,722.06 L689.3,722.36 L689.8,722.15 L690.3,723.20 L690.8,722.74 L691.3,723.12 L691.8,722.40 L692.3,723.05 L692.8,722.76 L693.3,722.66 L693.8,722.78 L694.3,722.76 L694.8,722.96 L695.3,721.16 L695.8,721.59 L696.3,721.90 L696.8,721.47 L697.3,720.67 L697.8,721.30 L698.3,721.23 L698.8,721.97 L699.3,722.08 L699.8,720.64 L700.3,721.13 L700.8,720.87 L701.3,720.71 L701.8,721.23 L702.3,722.12 L702.8,722.42 L703.3,722.81 L703.8,724.38 L704.3,723.79 L704.8,722.69 L705.3,722.40 L705.8,721.81 L706.3,722.15 L706.8,722.58 L707.3,721.56 L707.8,723.94 L708.3,723.58 L708.8,723.12 L709.3,723.19 L709.8,723.13 L710.3,724.45 L710.8,724.01 L711.3,724.54 L711.8,721.90 L712.3,723.36 L712.8,724.09 L713.3,724.78 L713.8,724.37 L714.3,722.71 L714.8,723.60 L715.3,723.26 L715.8,722.83 L716.3,721.78 L716.8,723.93 L717.3,724.63 L717.8,724.50 L718.3,723.58 L718.8,725.30 L719.3,724.02 L719.8,724.21 L720.3,722.45 L720.8,724.63 L721.3,724.32 L721.8,725.33 L722.3,724.72 L722.8,724.70 L723.3,724.52 L723.8,723.27 L724.3,724.13 L724.8,724.51 L725.3,724.46 L725.8,724.45 L726.3,725.07 L726.8,724.86 L727.3,725.23 L727.8,725.25 L728.3,723.97 L728.8,723.24 L729.3,723.97 L729.8,724.24 L730.3,723.63 L730.8,724.60 L731.3,725.17 L731.5,725.22" fill="none" stroke="#a9a9a9" stroke-width="4.0" stroke-linejoin="round"/>
<path d="M179.8,731.7V736.1M185.8,732.1V727.9M189.3,733.3V737.6M193.3,733.3V728.5M195.8,735.2V731.1M197.3,735.7V731.0M200.3,733.0V729.5M201.3,734.1V738.8M204.8,738.6V735.4M212.3,729.5V725.8M212.8,725.5V730.5M213.3,718.6V714.6M214.8,702.9V698.5M217.3,683.1V678.9M218.3,677.6V680.5M219.3,671.7V667.4M221.3,660.6V665.4M227.8,630.6V634.4M229.8,621.6V618.5M230.3,620.0V624.1M231.3,617.4V614.2M234.8,607.9V611.6M236.8,605.9V601.2M241.8,597.4V601.1M245.3,591.8V588.7M249.8,587.1V583.2M252.3,585.9V581.6M255.8,581.9V577.6M256.3,582.5V585.6M256.8,581.8V585.2M257.3,581.9V578.7M258.3,580.8V575.9M264.8,575.9V571.2M267.8,573.8V569.1M268.8,574.2V569.7M269.3,573.8V569.4M269.8,571.9V567.1M272.8,572.0V567.4M276.8,567.9V572.7M282.3,563.9V559.9M284.8,563.7V558.9M297.3,558.0V553.2M298.8,557.1V553.7M301.8,557.0V553.3M308.8,555.7V552.7M310.8,553.7V550.4M315.3,552.3V549.0M319.8,550.2V547.3M324.8,551.3V547.5M331.3,548.7V544.0M331.8,548.9V544.5M335.3,547.3V551.6M335.8,546.9V542.1M340.3,547.3V542.3M342.8,544.7V541.0M352.3,546.2V541.8M354.3,544.9V540.9M356.8,544.5V549.1M362.3,542.4V547.3M364.8,543.9V548.1M365.8,542.9V538.4M367.8,542.1V538.5M369.8,541.1V536.3M374.3,541.0V537.6M389.8,536.7V532.0M394.3,537.7V533.1M395.3,537.7V533.2M398.8,536.8V532.4M400.3,537.4V532.6M406.3,537.6V542.2M420.8,538.3V534.3M424.3,536.3V540.6M430.3,533.6V536.6M431.3,534.2V531.1M436.8,533.1V536.0M438.3,534.4V530.2M440.3,533.9V530.1M445.8,534.6V530.5M446.3,534.6V531.4M452.8,534.4V529.8M454.3,532.7V528.4M457.8,533.0V530.0M458.3,533.7V528.9M474.3,532.9V536.5M475.3,509.8V514.5M482.3,580.2V577.4M483.8,588.7V585.5M484.8,594.7V590.0M487.8,608.0V605.0M489.3,613.9V610.4M497.3,644.9V642.0M499.3,650.8V647.7M499.8,652.7V649.2M500.3,654.1V658.8M501.3,656.5V653.3M503.8,662.8V658.9M506.3,667.8V664.3M509.8,674.6V671.3M512.3,678.4V673.7M513.8,681.6V678.7M520.3,687.5V682.7M533.3,694.8V691.4M535.3,696.0V699.3M535.8,698.1V701.2M538.3,696.8V692.2M539.8,698.5V695.0M541.3,698.6V695.6M547.8,703.0V706.3M550.3,702.9V707.0M556.3,706.0V701.5M558.3,705.7V702.7M559.8,705.5V702.5M560.3,704.8V700.2M564.8,707.6V704.7M568.8,708.4V705.6M572.8,708.3V704.6M579.8,710.4V714.4M580.8,710.7V705.8M584.8,712.2V708.5M585.3,711.8V708.7M588.3,712.2V708.0M592.8,711.0V706.5M594.3,711.0V708.2M606.3,714.5V710.9M606.8,714.5V709.6M608.3,714.2V717.7M610.8,714.4V717.4M611.3,715.2V712.2M614.8,714.5V710.3M616.3,715.0V719.2M617.3,713.4V708.5M620.3,714.8V710.2M620.8,714.7V711.6M636.8,719.6V716.0M640.3,718.4V714.3M640.8,719.7V715.5M643.3,717.6V714.1M644.3,717.9V722.0M644.8,717.2V712.8M648.3,720.5V715.9M652.8,719.1V714.6M655.8,719.0V723.5M662.3,721.3V716.9M664.8,718.9V716.0M665.3,720.6V715.7M667.8,720.1V717.2M671.3,722.3V726.8M677.8,721.0V724.6M682.3,720.6V716.4M684.8,720.2V716.2M685.3,721.6V725.2M688.3,720.1V715.5M692.3,723.0V718.4M692.8,722.8V719.2M693.3,722.7V726.1M694.3,722.8V718.0M702.3,722.1V719.0M702.8,722.4V719.3M703.8,724.4V720.6M705.8,721.8V717.5M717.3,724.6V719.7M721.8,725.3V721.3M725.8,724.4V729.1M730.3,723.6V720.7" fill="none" stroke="#a9a9a9" stroke-width="1.4" stroke-linecap="round"/>
<text x="798.70" y="650.10" font-size="20" text-anchor="start" fill="#000" >k</text>
<text x="808.90" y="654.40" font-size="13" text-anchor="start" fill="#000" textLength="6.0" lengthAdjust="spacingAndGlyphs">d</text>
<text x="821.30" y="650.10" font-size="20" text-anchor="start" fill="#000" textLength="74.5" lengthAdjust="spacingAndGlyphs">2.28x10</text>
<text x="896.60" y="643.70" font-size="14" text-anchor="start" fill="#000" textLength="12" lengthAdjust="spacingAndGlyphs">-3</text>
<text x="912.70" y="650.10" font-size="20" text-anchor="start" fill="#000" textLength="14.2" lengthAdjust="spacingAndGlyphs">[s</text>
<text x="928.70" y="643.70" font-size="14" text-anchor="start" fill="#000" textLength="9.5" lengthAdjust="spacingAndGlyphs">-1</text>
<text x="940.30" y="650.10" font-size="20" text-anchor="start" fill="#000" >]</text>
<text x="798.70" y="731.40" font-size="20" text-anchor="start" fill="#000" >k</text>
<text x="808.90" y="735.70" font-size="13" text-anchor="start" fill="#000" textLength="6.0" lengthAdjust="spacingAndGlyphs">d</text>
<text x="821.30" y="731.40" font-size="20" text-anchor="start" fill="#000" textLength="74.5" lengthAdjust="spacingAndGlyphs">1.91x10</text>
<text x="896.60" y="725.00" font-size="14" text-anchor="start" fill="#000" textLength="12" lengthAdjust="spacingAndGlyphs">-2</text>
<text x="912.70" y="731.40" font-size="20" text-anchor="start" fill="#000" textLength="14.2" lengthAdjust="spacingAndGlyphs">[s</text>
<text x="928.70" y="725.00" font-size="14" text-anchor="start" fill="#000" textLength="9.5" lengthAdjust="spacingAndGlyphs">-1</text>
<text x="940.30" y="731.40" font-size="20" text-anchor="start" fill="#000" >]</text>
<line x1="124.00" y1="881.60" x2="124.00" y2="1157.90" stroke="#3a3a3a" stroke-width="1.3" />
<line x1="123.40" y1="1157.30" x2="739.30" y2="1157.30" stroke="#3a3a3a" stroke-width="1.3" />
<line x1="121.40" y1="1157.30" x2="124.00" y2="1157.30" stroke="#3a3a3a" stroke-width="1.2" />
<text x="111.60" y="1162.80" font-size="17.5" text-anchor="end" fill="#333" textLength="36.4" lengthAdjust="spacingAndGlyphs">-0.05</text>
<line x1="121.40" y1="1122.90" x2="124.00" y2="1122.90" stroke="#3a3a3a" stroke-width="1.2" />
<text x="111.60" y="1128.40" font-size="17.5" text-anchor="end" fill="#333" textLength="30.1" lengthAdjust="spacingAndGlyphs">0.00</text>
<line x1="121.40" y1="1088.50" x2="124.00" y2="1088.50" stroke="#3a3a3a" stroke-width="1.2" />
<text x="111.60" y="1094.00" font-size="17.5" text-anchor="end" fill="#333" textLength="30.1" lengthAdjust="spacingAndGlyphs">0.05</text>
<line x1="121.40" y1="1054.10" x2="124.00" y2="1054.10" stroke="#3a3a3a" stroke-width="1.2" />
<text x="111.60" y="1059.60" font-size="17.5" text-anchor="end" fill="#333" textLength="30.1" lengthAdjust="spacingAndGlyphs">0.10</text>
<line x1="121.40" y1="1019.70" x2="124.00" y2="1019.70" stroke="#3a3a3a" stroke-width="1.2" />
<text x="111.60" y="1025.20" font-size="17.5" text-anchor="end" fill="#333" textLength="30.1" lengthAdjust="spacingAndGlyphs">0.15</text>
<line x1="121.40" y1="985.30" x2="124.00" y2="985.30" stroke="#3a3a3a" stroke-width="1.2" />
<text x="111.60" y="990.80" font-size="17.5" text-anchor="end" fill="#333" textLength="30.1" lengthAdjust="spacingAndGlyphs">0.20</text>
<line x1="121.40" y1="950.90" x2="124.00" y2="950.90" stroke="#3a3a3a" stroke-width="1.2" />
<text x="111.60" y="956.40" font-size="17.5" text-anchor="end" fill="#333" textLength="30.1" lengthAdjust="spacingAndGlyphs">0.25</text>
<line x1="121.40" y1="916.50" x2="124.00" y2="916.50" stroke="#3a3a3a" stroke-width="1.2" />
<text x="111.60" y="922.00" font-size="17.5" text-anchor="end" fill="#333" textLength="30.1" lengthAdjust="spacingAndGlyphs">0.30</text>
<line x1="121.40" y1="882.10" x2="124.00" y2="882.10" stroke="#3a3a3a" stroke-width="1.2" />
<text x="111.60" y="887.60" font-size="17.5" text-anchor="end" fill="#333" textLength="30.1" lengthAdjust="spacingAndGlyphs">0.35</text>
<line x1="122.40" y1="1140.10" x2="124.00" y2="1140.10" stroke="#3a3a3a" stroke-width="1.2" />
<line x1="122.40" y1="1105.70" x2="124.00" y2="1105.70" stroke="#3a3a3a" stroke-width="1.2" />
<line x1="122.40" y1="1071.30" x2="124.00" y2="1071.30" stroke="#3a3a3a" stroke-width="1.2" />
<line x1="122.40" y1="1036.90" x2="124.00" y2="1036.90" stroke="#3a3a3a" stroke-width="1.2" />
<line x1="122.40" y1="1002.50" x2="124.00" y2="1002.50" stroke="#3a3a3a" stroke-width="1.2" />
<line x1="122.40" y1="968.10" x2="124.00" y2="968.10" stroke="#3a3a3a" stroke-width="1.2" />
<line x1="122.40" y1="933.70" x2="124.00" y2="933.70" stroke="#3a3a3a" stroke-width="1.2" />
<line x1="122.40" y1="899.30" x2="124.00" y2="899.30" stroke="#3a3a3a" stroke-width="1.2" />
<line x1="124.00" y1="1155.10" x2="124.00" y2="1159.50" stroke="#3a3a3a" stroke-width="1.2" />
<text x="123.30" y="1176.40" font-size="17.5" text-anchor="middle" fill="#333" textLength="8.6" lengthAdjust="spacingAndGlyphs">0</text>
<line x1="211.83" y1="1155.10" x2="211.83" y2="1159.50" stroke="#3a3a3a" stroke-width="1.2" />
<text x="211.13" y="1176.40" font-size="17.5" text-anchor="middle" fill="#333" textLength="25.1" lengthAdjust="spacingAndGlyphs">200</text>
<line x1="299.66" y1="1155.10" x2="299.66" y2="1159.50" stroke="#3a3a3a" stroke-width="1.2" />
<text x="298.96" y="1176.40" font-size="17.5" text-anchor="middle" fill="#333" textLength="25.1" lengthAdjust="spacingAndGlyphs">400</text>
<line x1="387.48" y1="1155.10" x2="387.48" y2="1159.50" stroke="#3a3a3a" stroke-width="1.2" />
<text x="386.78" y="1176.40" font-size="17.5" text-anchor="middle" fill="#333" textLength="25.1" lengthAdjust="spacingAndGlyphs">600</text>
<line x1="475.31" y1="1155.10" x2="475.31" y2="1159.50" stroke="#3a3a3a" stroke-width="1.2" />
<text x="474.61" y="1176.40" font-size="17.5" text-anchor="middle" fill="#333" textLength="25.1" lengthAdjust="spacingAndGlyphs">800</text>
<line x1="563.14" y1="1155.10" x2="563.14" y2="1159.50" stroke="#3a3a3a" stroke-width="1.2" />
<text x="562.44" y="1176.40" font-size="17.5" text-anchor="middle" fill="#333" textLength="33.7" lengthAdjust="spacingAndGlyphs">1000</text>
<line x1="650.97" y1="1155.10" x2="650.97" y2="1159.50" stroke="#3a3a3a" stroke-width="1.2" />
<text x="650.27" y="1176.40" font-size="17.5" text-anchor="middle" fill="#333" textLength="33.7" lengthAdjust="spacingAndGlyphs">1200</text>
<line x1="738.80" y1="1155.10" x2="738.80" y2="1159.50" stroke="#3a3a3a" stroke-width="1.2" />
<text x="738.10" y="1176.40" font-size="17.5" text-anchor="middle" fill="#333" textLength="33.7" lengthAdjust="spacingAndGlyphs">1400</text>
<line x1="167.91" y1="1157.30" x2="167.91" y2="1159.30" stroke="#3a3a3a" stroke-width="1.2" />
<line x1="255.74" y1="1157.30" x2="255.74" y2="1159.30" stroke="#3a3a3a" stroke-width="1.2" />
<line x1="343.57" y1="1157.30" x2="343.57" y2="1159.30" stroke="#3a3a3a" stroke-width="1.2" />
<line x1="431.40" y1="1157.30" x2="431.40" y2="1159.30" stroke="#3a3a3a" stroke-width="1.2" />
<line x1="519.23" y1="1157.30" x2="519.23" y2="1159.30" stroke="#3a3a3a" stroke-width="1.2" />
<line x1="607.05" y1="1157.30" x2="607.05" y2="1159.30" stroke="#3a3a3a" stroke-width="1.2" />
<line x1="694.88" y1="1157.30" x2="694.88" y2="1159.30" stroke="#3a3a3a" stroke-width="1.2" />
<text transform="translate(71.10,1017.40) rotate(-90)" font-size="20.5" text-anchor="middle" fill="#000" stroke="#000" stroke-width="0.2" textLength="142" lengthAdjust="spacingAndGlyphs">Response [RU]</text>
<text x="407.40" y="1202.20" font-size="20" text-anchor="start" fill="#000" stroke="#000" stroke-width="0.25">Time [s]</text>
<text x="155.00" y="864.80" font-size="23" text-anchor="start" fill="#000" >D4</text>
<path d="M171.3,1111.70 L171.8,1112.31 L172.3,1113.59 L172.8,1113.29 L173.3,1111.53 L173.8,1110.98 L174.3,1112.47 L174.8,1112.78 L175.3,1113.44 L175.8,1114.32 L176.3,1113.69 L176.8,1112.30 L177.3,1112.09 L177.8,1111.69 L178.3,1112.14 L178.8,1112.04 L179.3,1112.90 L179.8,1114.06 L180.3,1112.31 L180.8,1113.27 L181.3,1114.95 L181.8,1113.97 L182.3,1114.67 L182.8,1114.96 L183.3,1115.75 L183.8,1116.19 L184.3,1116.27 L184.8,1116.53 L185.3,1117.11 L185.8,1116.67 L186.3,1117.58 L186.8,1117.51 L187.3,1117.23 L187.8,1117.25 L188.3,1116.46 L188.8,1117.03 L189.3,1116.52 L189.8,1117.51 L190.3,1117.93 L190.8,1118.17 L191.3,1118.27 L191.8,1118.55 L192.3,1120.19 L192.8,1120.68 L193.3,1120.11 L193.8,1120.34 L194.3,1119.44 L194.8,1120.34 L195.3,1120.94 L195.8,1120.48 L196.3,1120.09 L196.8,1119.05 L197.3,1120.25 L197.8,1121.73 L198.3,1122.08 L198.8,1123.11 L199.3,1122.97 L199.8,1123.55 L200.3,1123.22 L200.8,1123.43 L201.3,1123.95 L201.8,1122.52 L202.3,1123.87 L202.8,1124.02 L203.3,1122.82 L203.8,1124.87 L204.3,1125.13 L204.8,1125.03 L205.3,1126.44 L205.8,1125.44 L206.3,1126.32 L206.8,1126.13 L207.3,1126.30 L207.8,1127.98 L208.3,1128.86 L208.8,1128.07 L209.3,1127.56 L209.8,1127.50 L210.3,1128.12" fill="none" stroke="#000" stroke-width="3.8" stroke-linejoin="round"/>
<path d="M210.3,1128.12 L210.8,1127.27 L211.3,1117.61 L211.8,1102.61 L212.3,1086.56 L212.8,1071.08 L213.3,1054.85 L213.8,1042.53 L214.3,1033.14 L214.8,1024.48 L215.3,1016.76 L215.8,1011.39 L216.3,1008.61 L216.8,1005.77 L217.3,1003.27 L217.8,1000.85 L218.3,999.06 L218.8,996.86 L219.3,994.12 L219.8,993.12 L220.3,990.60 L220.8,990.92" fill="none" stroke="#000" stroke-width="2.6" stroke-linejoin="round"/>
<path d="M220.8,990.92 L221.3,989.67 L221.8,988.27 L222.3,987.57 L222.8,986.86 L223.3,984.84 L223.8,983.91 L224.3,985.33 L224.8,982.87 L225.3,982.19 L225.8,980.95 L226.3,980.44 L226.8,978.67 L227.3,977.79 L227.8,977.63 L228.3,978.06 L228.8,977.66 L229.3,977.97 L229.8,977.52 L230.3,977.61 L230.8,977.00 L231.3,975.19 L231.8,974.01 L232.3,977.05 L232.8,976.16 L233.3,975.11 L233.8,973.86 L234.3,974.06 L234.8,971.92 L235.3,973.21 L235.8,971.15 L236.3,970.83 L236.8,971.77 L237.3,969.55 L237.8,969.30 L238.3,967.51 L238.8,967.70 L239.3,967.33 L239.8,967.21 L240.3,967.98 L240.8,966.40 L241.3,967.28 L241.8,965.97 L242.3,965.77 L242.8,965.29 L243.3,966.38 L243.8,964.98 L244.3,965.96 L244.8,965.87 L245.3,965.61 L245.8,966.26 L246.3,965.68 L246.8,963.82 L247.3,964.61 L247.8,962.78 L248.3,963.75 L248.8,963.68 L249.3,963.23 L249.8,963.25 L250.3,963.22 L250.8,964.93 L251.3,964.79 L251.8,964.70 L252.3,965.73 L252.8,964.35 L253.3,963.15 L253.8,964.85 L254.3,963.86 L254.8,963.54 L255.3,962.50 L255.8,961.89 L256.3,961.55 L256.8,961.16 L257.3,960.40 L257.8,960.59 L258.3,962.76 L258.8,963.99 L259.3,963.00 L259.8,962.36 L260.3,961.67 L260.8,963.28 L261.3,962.80 L261.8,961.44 L262.3,960.80 L262.8,961.98 L263.3,963.06 L263.8,962.00 L264.3,959.29 L264.8,960.25 L265.3,960.38 L265.8,959.91 L266.3,961.20 L266.8,960.93 L267.3,958.93 L267.8,958.30 L268.3,958.44 L268.8,958.28 L269.3,958.94 L269.8,957.93 L270.3,958.11 L270.8,956.94 L271.3,957.63 L271.8,957.72 L272.3,959.35 L272.8,960.19 L273.3,958.81 L273.8,958.62 L274.3,960.03 L274.8,959.52 L275.3,959.78 L275.8,959.84 L276.3,959.98 L276.8,960.06 L277.3,959.90 L277.8,959.39 L278.3,958.40 L278.8,957.65 L279.3,957.42 L279.8,957.47 L280.3,957.82 L280.8,958.19 L281.3,957.87 L281.8,957.02 L282.3,956.31 L282.8,957.26 L283.3,957.87 L283.8,957.17 L284.3,957.00 L284.8,957.46 L285.3,957.15 L285.8,955.46 L286.3,955.91 L286.8,955.71 L287.3,956.61 L287.8,956.45 L288.3,955.98 L288.8,955.84 L289.3,955.52 L289.8,956.08 L290.3,954.67 L290.8,953.23 L291.3,954.89 L291.8,955.37 L292.3,955.21 L292.8,956.51 L293.3,956.60 L293.8,954.95 L294.3,955.18 L294.8,956.18 L295.3,955.85 L295.8,955.01 L296.3,956.17 L296.8,955.55 L297.3,954.99 L297.8,954.42 L298.3,953.94 L298.8,955.09 L299.3,953.28 L299.8,955.35 L300.3,953.72 L300.8,954.43 L301.3,953.61 L301.8,954.27 L302.3,955.48 L302.8,956.61 L303.3,956.69 L303.8,955.74 L304.3,955.42 L304.8,955.69 L305.3,956.21 L305.8,955.12 L306.3,955.56 L306.8,955.66 L307.3,956.16 L307.8,955.86 L308.3,955.61 L308.8,953.91 L309.3,954.12 L309.8,953.68 L310.3,953.58 L310.8,952.97 L311.3,954.57 L311.8,952.85 L312.3,956.91 L312.8,955.38 L313.3,955.41 L313.8,956.17 L314.3,952.94 L314.8,953.48 L315.3,954.70 L315.8,952.10 L316.3,953.84 L316.8,952.55 L317.3,953.37 L317.8,953.44 L318.3,951.74 L318.8,952.26 L319.3,953.18 L319.8,952.90 L320.3,953.00 L320.8,956.70 L321.3,955.39 L321.8,954.92 L322.3,954.27 L322.8,953.26 L323.3,953.99 L323.8,954.64 L324.3,953.58 L324.8,955.15 L325.3,954.05 L325.8,955.09 L326.3,953.10 L326.8,953.29 L327.3,953.78 L327.8,953.77 L328.3,952.56 L328.8,951.56 L329.3,951.74 L329.8,952.68 L330.3,951.57 L330.8,951.96 L331.3,951.98 L331.8,953.47 L332.3,952.56 L332.8,951.77 L333.3,952.11 L333.8,953.97 L334.3,953.44 L334.8,953.06 L335.3,953.98 L335.8,954.52 L336.3,955.25 L336.8,952.92 L337.3,952.37 L337.8,952.50 L338.3,952.42 L338.8,951.23 L339.3,951.23 L339.8,951.31 L340.3,952.01 L340.8,951.46 L341.3,950.69 L341.8,949.85 L342.3,950.22 L342.8,950.99 L343.3,952.32 L343.8,951.93 L344.3,949.33 L344.8,950.37 L345.3,949.88 L345.8,950.45 L346.3,950.10 L346.8,950.19 L347.3,950.29 L347.8,953.20 L348.3,952.94 L348.8,952.67 L349.3,951.65 L349.8,951.70 L350.3,951.24 L350.8,951.23 L351.3,951.07 L351.8,952.57 L352.3,952.69 L352.8,952.39 L353.3,953.48 L353.8,952.86 L354.3,951.38 L354.8,949.57 L355.3,949.31 L355.8,950.26 L356.3,950.78 L356.8,951.59 L357.3,950.94 L357.8,949.85 L358.3,951.71 L358.8,951.64 L359.3,950.98 L359.8,951.52 L360.3,951.67 L360.8,952.20 L361.3,951.72 L361.8,949.43 L362.3,950.69 L362.8,951.25 L363.3,950.60 L363.8,951.08 L364.3,949.67 L364.8,949.70 L365.3,949.81 L365.8,951.32 L366.3,950.43 L366.8,950.85 L367.3,950.78 L367.8,951.09 L368.3,950.63 L368.8,950.71 L369.3,952.23 L369.8,951.06 L370.3,949.49 L370.8,949.39 L371.3,950.57 L371.8,948.62 L372.3,948.69 L372.8,949.39 L373.3,948.73 L373.8,949.61 L374.3,949.41 L374.8,948.64 L375.3,948.07 L375.8,950.27 L376.3,949.95 L376.8,949.39 L377.3,949.84 L377.8,948.77 L378.3,950.25 L378.8,950.23 L379.3,950.29 L379.8,948.63 L380.3,947.35 L380.8,946.04 L381.3,947.31 L381.8,948.50 L382.3,949.24 L382.8,950.38 L383.3,950.28 L383.8,949.86 L384.3,949.74 L384.8,950.80 L385.3,950.01 L385.8,950.29 L386.3,949.43 L386.8,949.44 L387.3,950.03 L387.8,949.55 L388.3,948.16 L388.8,949.64 L389.3,949.48 L389.8,948.80 L390.3,949.47 L390.8,949.88 L391.3,948.74 L391.8,950.47 L392.3,949.53 L392.8,950.49 L393.3,951.04 L393.8,951.29 L394.3,950.33 L394.8,949.80 L395.3,949.55 L395.8,951.46 L396.3,950.73 L396.8,951.17 L397.3,950.88 L397.8,948.19 L398.3,948.25 L398.8,947.98 L399.3,947.86 L399.8,947.34 L400.3,947.16 L400.8,948.74 L401.3,949.52 L401.8,949.29 L402.3,948.32 L402.8,948.11 L403.3,948.77 L403.8,949.12 L404.3,948.27 L404.8,948.25 L405.3,948.51 L405.8,948.58 L406.3,948.05 L406.8,947.75 L407.3,947.23 L407.8,947.97 L408.3,949.16 L408.8,949.14 L409.3,948.57 L409.8,947.64 L410.3,949.78 L410.8,947.40 L411.3,949.64 L411.8,949.31 L412.3,948.79 L412.8,948.37 L413.3,949.22 L413.8,947.91 L414.3,946.38 L414.8,947.38 L415.3,946.15 L415.8,947.40 L416.3,949.11 L416.8,946.97 L417.3,946.39 L417.8,947.11 L418.3,947.66 L418.8,948.19 L419.3,948.91 L419.8,948.56 L420.3,948.81 L420.8,951.04 L421.3,949.68 L421.8,950.30 L422.3,947.99 L422.8,948.46 L423.3,946.92 L423.8,948.83 L424.3,950.84 L424.8,950.24 L425.3,948.05 L425.8,948.42 L426.3,947.93 L426.8,947.83 L427.3,949.28 L427.8,949.94 L428.3,947.16 L428.8,947.99 L429.3,948.21 L429.8,947.78 L430.3,948.69 L430.8,947.46 L431.3,947.50 L431.8,946.78 L432.3,947.30 L432.8,947.58 L433.3,948.75 L433.8,948.97 L434.3,948.27 L434.8,949.40 L435.3,948.27 L435.8,949.45 L436.3,948.74 L436.8,948.59 L437.3,947.89 L437.8,948.38 L438.3,947.61 L438.8,947.59 L439.3,947.64 L439.8,946.77 L440.3,948.23 L440.8,947.35 L441.3,947.71 L441.8,947.86 L442.3,947.86 L442.8,948.13 L443.3,948.77 L443.8,948.11 L444.3,947.97 L444.8,947.30 L445.3,947.53 L445.8,947.58 L446.3,947.28 L446.8,948.12 L447.3,947.72 L447.8,948.60 L448.3,946.88 L448.8,945.72 L449.3,944.39 L449.8,946.34 L450.3,947.83 L450.8,949.07 L451.3,948.31 L451.8,949.25 L452.3,947.80 L452.8,946.87 L453.3,946.46 L453.8,946.51 L454.3,946.23 L454.8,947.18 L455.3,948.95 L455.8,948.59 L456.3,948.00 L456.8,947.77 L457.3,946.91 L457.8,946.66 L458.3,945.97 L458.8,945.67 L459.3,946.43 L459.8,946.84 L460.3,946.39 L460.8,947.20 L461.3,947.76 L461.8,946.89 L462.3,948.04 L462.8,946.08 L463.3,946.75 L463.8,947.14 L464.3,947.00 L464.8,945.53 L465.3,947.04 L465.8,946.19 L466.3,947.45 L466.8,947.91 L467.3,947.73 L467.8,947.65 L468.3,948.21 L468.8,948.12 L469.3,946.41 L469.8,947.74 L470.3,947.56 L470.8,947.68 L471.3,947.46 L471.8,947.82 L472.3,947.01 L472.8,946.79 L473.3,946.21" fill="none" stroke="#000" stroke-width="3.8" stroke-linejoin="round"/>
<path d="M473.3,946.21 L473.8,947.86 L474.3,932.13 L474.8,917.19 L475.3,922.16 L475.8,932.21 L476.3,937.27 L476.8,944.06 L477.3,946.54 L477.8,949.78 L478.3,955.52 L478.8,962.07 L479.3,965.19 L479.8,969.54 L480.3,974.65 L480.8,975.74 L481.3,978.89 L481.8,980.15 L482.3,981.55 L482.8,983.23 L483.3,984.62 L483.8,984.45" fill="none" stroke="#000" stroke-width="2.6" stroke-linejoin="round"/>
<path d="M483.8,984.45 L484.3,988.82 L484.8,989.07 L485.3,989.16 L485.8,991.75 L486.3,991.91 L486.8,994.75 L487.3,995.42 L487.8,995.77 L488.3,997.12 L488.8,997.89 L489.3,998.60 L489.8,998.71 L490.3,1001.59 L490.8,1001.25 L491.3,1001.77 L491.8,1002.16 L492.3,1003.92 L492.8,1004.60 L493.3,1006.00 L493.8,1005.48 L494.3,1006.09 L494.8,1006.86 L495.3,1007.02 L495.8,1007.93 L496.3,1006.61 L496.8,1008.43 L497.3,1009.51 L497.8,1008.59 L498.3,1009.84 L498.8,1011.74 L499.3,1011.11 L499.8,1012.50 L500.3,1012.91 L500.8,1012.05 L501.3,1011.54 L501.8,1012.76 L502.3,1014.25 L502.8,1015.98 L503.3,1014.80 L503.8,1015.97 L504.3,1015.72 L504.8,1015.70 L505.3,1016.22 L505.8,1015.68 L506.3,1015.33 L506.8,1017.01 L507.3,1016.62 L507.8,1017.02 L508.3,1016.66 L508.8,1017.26 L509.3,1017.47 L509.8,1018.69 L510.3,1016.24 L510.8,1018.45 L511.3,1018.20 L511.8,1018.58 L512.3,1019.96 L512.8,1019.72 L513.3,1019.50 L513.8,1020.96 L514.3,1019.89 L514.8,1020.48 L515.3,1021.42 L515.8,1023.04 L516.3,1023.44 L516.8,1023.62 L517.3,1023.62 L517.8,1022.40 L518.3,1023.57 L518.8,1023.15 L519.3,1021.85 L519.8,1023.28 L520.3,1023.05 L520.8,1023.96 L521.3,1022.53 L521.8,1022.92 L522.3,1022.27 L522.8,1022.26 L523.3,1021.54 L523.8,1023.38 L524.3,1024.17 L524.8,1022.96 L525.3,1022.50 L525.8,1022.85 L526.3,1024.70 L526.8,1024.40 L527.3,1024.30 L527.8,1025.57 L528.3,1024.86 L528.8,1025.06 L529.3,1025.27 L529.8,1026.07 L530.3,1026.36 L530.8,1025.90 L531.3,1025.42 L531.8,1025.73 L532.3,1026.12 L532.8,1026.53 L533.3,1025.22 L533.8,1026.30 L534.3,1026.88 L534.8,1026.42 L535.3,1025.63 L535.8,1026.63 L536.3,1027.61 L536.8,1026.62 L537.3,1027.77 L537.8,1027.05 L538.3,1026.90 L538.8,1028.38 L539.3,1029.72 L539.8,1028.95 L540.3,1028.35 L540.8,1027.90 L541.3,1027.88 L541.8,1028.77 L542.3,1029.55 L542.8,1031.00 L543.3,1030.94 L543.8,1031.16 L544.3,1029.36 L544.8,1030.58 L545.3,1031.06 L545.8,1031.57 L546.3,1031.64 L546.8,1031.27 L547.3,1032.01 L547.8,1031.16 L548.3,1031.18 L548.8,1032.29 L549.3,1031.09 L549.8,1030.03 L550.3,1030.91 L550.8,1031.25 L551.3,1031.95 L551.8,1032.49 L552.3,1031.63 L552.8,1031.86 L553.3,1033.56 L553.8,1032.87 L554.3,1032.41 L554.8,1031.99 L555.3,1032.89 L555.8,1034.27 L556.3,1032.88 L556.8,1034.52 L557.3,1034.57 L557.8,1033.90 L558.3,1033.20 L558.8,1032.96 L559.3,1033.43 L559.8,1033.52 L560.3,1034.59 L560.8,1034.81 L561.3,1035.31 L561.8,1035.61 L562.3,1034.15 L562.8,1035.68 L563.3,1036.01 L563.8,1036.16 L564.3,1036.73 L564.8,1036.54 L565.3,1036.70 L565.8,1037.29 L566.3,1034.91 L566.8,1033.83 L567.3,1035.43 L567.8,1035.40 L568.3,1035.30 L568.8,1036.73 L569.3,1036.84 L569.8,1035.82 L570.3,1035.71 L570.8,1036.67 L571.3,1038.57 L571.8,1036.50 L572.3,1036.88 L572.8,1036.33 L573.3,1035.86 L573.8,1035.86 L574.3,1035.68 L574.8,1036.07 L575.3,1037.79 L575.8,1038.08 L576.3,1038.59 L576.8,1039.70 L577.3,1038.87 L577.8,1039.37 L578.3,1038.48 L578.8,1038.17 L579.3,1039.27 L579.8,1037.86 L580.3,1037.79 L580.8,1040.49 L581.3,1040.36 L581.8,1039.30 L582.3,1038.75 L582.8,1039.70 L583.3,1039.16 L583.8,1039.10 L584.3,1039.66 L584.8,1040.30 L585.3,1040.04 L585.8,1041.96 L586.3,1041.97 L586.8,1041.14 L587.3,1042.30 L587.8,1042.99 L588.3,1042.87 L588.8,1041.94 L589.3,1041.09 L589.8,1041.19 L590.3,1040.31 L590.8,1040.91 L591.3,1040.89 L591.8,1040.63 L592.3,1040.92 L592.8,1041.20 L593.3,1039.52 L593.8,1040.94 L594.3,1041.30 L594.8,1041.01 L595.3,1039.83 L595.8,1041.84 L596.3,1040.95 L596.8,1039.90 L597.3,1041.44 L597.8,1040.40 L598.3,1040.85 L598.8,1039.68 L599.3,1040.37 L599.8,1041.09 L600.3,1041.99 L600.8,1041.66 L601.3,1042.03 L601.8,1042.67 L602.3,1042.17 L602.8,1041.82 L603.3,1043.80 L603.8,1042.88 L604.3,1042.89 L604.8,1043.07 L605.3,1044.14 L605.8,1042.97 L606.3,1043.84 L606.8,1043.81 L607.3,1043.17 L607.8,1043.47 L608.3,1043.19 L608.8,1042.81 L609.3,1042.70 L609.8,1043.94 L610.3,1043.68 L610.8,1042.97 L611.3,1042.80 L611.8,1043.27 L612.3,1042.46 L612.8,1043.83 L613.3,1044.36 L613.8,1043.97 L614.3,1044.10 L614.8,1044.05 L615.3,1044.71 L615.8,1043.35 L616.3,1044.43 L616.8,1044.26 L617.3,1044.30 L617.8,1045.00 L618.3,1043.82 L618.8,1044.50 L619.3,1043.65 L619.8,1043.12 L620.3,1044.93 L620.8,1044.37 L621.3,1043.36 L621.8,1044.03 L622.3,1044.12 L622.8,1042.15 L623.3,1042.94 L623.8,1044.74 L624.3,1045.07 L624.8,1046.83 L625.3,1046.42 L625.8,1046.87 L626.3,1045.50 L626.8,1045.39 L627.3,1046.96 L627.8,1047.05 L628.3,1047.10 L628.8,1044.16 L629.3,1045.20 L629.8,1043.92 L630.3,1046.04 L630.8,1045.59 L631.3,1046.26 L631.8,1045.76 L632.3,1047.45 L632.8,1045.92 L633.3,1046.56 L633.8,1048.97 L634.3,1047.98 L634.8,1046.90 L635.3,1046.97 L635.8,1048.38 L636.3,1048.12 L636.8,1046.08 L637.3,1046.70 L637.8,1045.12 L638.3,1047.56 L638.8,1048.04 L639.3,1047.49 L639.8,1048.36 L640.3,1048.67 L640.8,1046.80 L641.3,1048.79 L641.8,1048.65 L642.3,1047.50 L642.8,1047.86 L643.3,1048.95 L643.8,1050.06 L644.3,1049.56 L644.8,1048.13 L645.3,1049.30 L645.8,1050.07 L646.3,1049.51 L646.8,1050.85 L647.3,1049.46 L647.8,1050.18 L648.3,1050.58 L648.8,1048.67 L649.3,1047.47 L649.8,1047.41 L650.3,1047.78 L650.8,1048.93 L651.3,1049.36 L651.8,1049.37 L652.3,1049.91 L652.8,1049.40 L653.3,1049.41 L653.8,1050.57 L654.3,1050.43 L654.8,1049.83 L655.3,1049.26 L655.8,1050.58 L656.3,1050.24 L656.8,1050.99 L657.3,1050.82 L657.8,1050.68 L658.3,1049.78 L658.8,1049.63 L659.3,1050.48 L659.8,1050.44 L660.3,1049.96 L660.8,1048.70 L661.3,1050.74 L661.8,1050.31 L662.3,1051.20 L662.8,1051.80 L663.3,1051.70 L663.8,1049.44 L664.3,1050.46 L664.8,1049.37 L665.3,1049.60 L665.8,1050.66 L666.3,1051.52 L666.8,1051.19 L667.3,1051.71 L667.8,1050.82 L668.3,1050.34 L668.8,1051.13 L669.3,1051.50 L669.8,1053.37 L670.3,1052.04 L670.8,1053.00 L671.3,1052.29 L671.8,1052.91 L672.3,1052.07 L672.8,1052.35 L673.3,1052.37 L673.8,1051.71 L674.3,1052.12 L674.8,1053.10 L675.3,1053.34 L675.8,1054.52 L676.3,1054.86 L676.8,1051.13 L677.3,1052.28 L677.8,1051.05 L678.3,1051.65 L678.8,1052.42 L679.3,1052.25 L679.8,1052.12 L680.3,1052.93 L680.8,1052.76 L681.3,1054.59 L681.8,1054.69 L682.3,1055.17 L682.8,1056.05 L683.3,1054.61 L683.8,1054.36 L684.3,1053.49 L684.8,1053.97 L685.3,1054.62 L685.8,1055.86 L686.3,1054.79 L686.8,1053.90 L687.3,1053.76 L687.8,1052.66 L688.3,1053.48 L688.8,1054.28 L689.3,1053.21 L689.8,1051.90 L690.3,1054.01 L690.8,1053.19 L691.3,1054.01 L691.8,1053.03 L692.3,1055.13 L692.8,1055.03 L693.3,1055.49 L693.8,1056.28 L694.3,1055.18 L694.8,1055.66 L695.3,1056.49 L695.8,1057.24 L696.3,1055.51 L696.8,1054.39 L697.3,1055.14 L697.8,1054.98 L698.3,1054.61 L698.8,1054.94 L699.3,1055.37 L699.8,1056.21 L700.3,1056.13 L700.8,1055.27 L701.3,1055.79 L701.8,1054.44 L702.3,1056.26 L702.8,1056.18 L703.3,1056.47 L703.8,1056.42 L704.3,1056.38 L704.8,1056.64 L705.3,1057.02 L705.8,1056.41 L706.3,1054.53 L706.8,1055.13 L707.3,1055.08 L707.8,1055.13 L708.3,1056.67 L708.8,1055.50 L709.3,1055.26 L709.8,1056.60 L710.3,1056.17 L710.8,1057.59 L711.3,1056.33 L711.8,1054.40 L712.3,1056.46 L712.8,1055.88 L713.3,1056.92 L713.8,1056.35 L714.3,1057.09 L714.8,1056.87 L715.3,1056.50 L715.8,1056.23 L716.3,1055.45 L716.8,1056.16 L717.3,1055.30 L717.8,1056.35 L718.3,1054.46 L718.8,1054.04 L719.3,1054.99 L719.8,1056.41 L720.3,1054.77 L720.8,1055.18 L721.3,1055.28 L721.8,1057.24 L722.3,1056.36 L722.8,1057.88 L723.3,1056.48 L723.8,1056.89 L724.3,1055.75 L724.8,1055.81 L725.3,1056.86 L725.8,1057.34 L726.3,1056.35 L726.8,1055.67 L727.3,1057.51 L727.8,1058.73 L728.3,1057.89 L728.8,1056.92 L729.3,1056.97 L729.8,1057.02 L730.3,1057.47 L730.8,1056.41 L731.3,1055.97 L731.8,1056.17 L732.3,1057.54 L732.5,1058.48" fill="none" stroke="#000" stroke-width="3.8" stroke-linejoin="round"/>
<path d="M171.3,1111.7V1116.3M175.8,1114.3V1119.7M179.3,1112.9V1116.4M187.8,1117.3V1121.1M189.3,1116.5V1120.7M191.8,1118.6V1123.3M196.8,1119.0V1113.6M198.3,1122.1V1126.0M199.8,1123.6V1118.0M204.3,1125.1V1129.7M206.3,1126.3V1120.9M208.3,1128.9V1124.9M208.8,1128.1V1132.3M209.8,1127.5V1123.3M217.8,1000.8V995.8M219.3,994.1V997.8M220.8,990.9V987.3M221.8,988.3V984.6M224.3,985.3V990.6M228.8,977.7V974.2M229.8,977.5V981.3M230.8,977.0V982.3M234.3,974.1V979.3M236.3,970.8V975.8M237.8,969.3V966.0M238.3,967.5V962.4M244.3,966.0V970.7M247.8,962.8V957.9M252.3,965.7V962.4M260.3,961.7V966.5M262.3,960.8V956.7M262.8,962.0V966.8M270.3,958.1V963.1M271.8,957.7V961.6M278.3,958.4V962.9M279.8,957.5V963.0M280.8,958.2V954.6M283.3,957.9V962.1M285.3,957.2V961.3M288.8,955.8V959.4M291.3,954.9V959.3M291.8,955.4V959.6M292.3,955.2V959.0M294.3,955.2V959.3M296.8,955.5V959.7M297.3,955.0V950.0M298.3,953.9V958.7M298.8,955.1V949.6M299.3,953.3V958.5M299.8,955.3V960.1M305.3,956.2V959.7M306.8,955.7V951.2M309.3,954.1V958.0M311.3,954.6V949.1M314.3,952.9V957.2M318.3,951.7V956.9M321.3,955.4V950.8M323.3,954.0V958.2M324.8,955.2V951.1M327.3,953.8V958.5M328.3,952.6V949.1M329.3,951.7V957.3M329.8,952.7V947.7M333.3,952.1V948.5M334.3,953.4V948.2M334.8,953.1V949.4M335.8,954.5V951.0M351.8,952.6V955.9M352.8,952.4V947.8M354.3,951.4V956.2M355.8,950.3V954.2M366.3,950.4V954.4M366.8,950.9V947.5M374.8,948.6V944.5M378.3,950.3V953.6M379.8,948.6V945.3M384.8,950.8V954.8M387.3,950.0V953.6M390.8,949.9V953.7M396.8,951.2V946.0M399.3,947.9V942.3M399.8,947.3V952.3M401.8,949.3V954.0M403.8,949.1V943.9M404.8,948.2V944.2M405.8,948.6V944.3M406.8,947.7V944.2M416.3,949.1V952.9M418.8,948.2V944.9M421.8,950.3V954.5M424.8,950.2V954.3M429.3,948.2V944.8M429.8,947.8V944.4M430.3,948.7V943.1M430.8,947.5V952.2M435.3,948.3V952.4M435.8,949.4V953.5M436.3,948.7V953.4M437.3,947.9V944.4M437.8,948.4V943.6M448.8,945.7V951.3M449.8,946.3V941.5M451.3,948.3V953.4M455.8,948.6V953.9M457.8,946.7V942.4M458.3,946.0V950.2M460.8,947.2V950.6M464.8,945.5V940.3M466.8,947.9V942.9M467.8,947.6V953.0M470.3,947.6V942.3M471.8,947.8V951.4M474.3,932.1V928.3M485.8,991.7V986.9M487.8,995.8V999.3M489.8,998.7V1003.4M495.8,1007.9V1011.5M501.3,1011.5V1016.8M502.3,1014.3V1019.6M505.8,1015.7V1010.2M506.8,1017.0V1022.3M507.3,1016.6V1020.3M507.8,1017.0V1013.8M508.3,1016.7V1021.7M510.8,1018.5V1022.1M513.8,1021.0V1026.5M518.8,1023.1V1028.6M520.8,1024.0V1020.4M523.3,1021.5V1018.3M523.8,1023.4V1019.0M525.8,1022.8V1018.9M531.3,1025.4V1022.1M534.8,1026.4V1021.8M535.3,1025.6V1022.2M542.8,1031.0V1035.4M543.3,1030.9V1025.3M552.8,1031.9V1026.5M557.8,1033.9V1030.3M560.3,1034.6V1030.5M563.3,1036.0V1040.0M564.3,1036.7V1040.8M565.8,1037.3V1042.3M571.3,1038.6V1034.9M575.3,1037.8V1032.5M578.8,1038.2V1041.6M581.8,1039.3V1034.2M583.3,1039.2V1044.7M585.3,1040.0V1036.3M590.8,1040.9V1044.8M593.3,1039.5V1035.1M594.8,1041.0V1044.4M596.8,1039.9V1043.3M597.8,1040.4V1036.2M612.3,1042.5V1046.5M615.3,1044.7V1050.1M616.8,1044.3V1048.6M618.8,1044.5V1048.4M623.8,1044.7V1048.6M628.3,1047.1V1050.9M630.8,1045.6V1049.2M633.3,1046.6V1043.2M634.8,1046.9V1041.4M636.3,1048.1V1052.0M638.3,1047.6V1050.9M638.8,1048.0V1052.1M639.3,1047.5V1052.8M648.8,1048.7V1044.8M651.8,1049.4V1053.0M653.8,1050.6V1053.8M656.3,1050.2V1046.0M657.3,1050.8V1055.1M659.3,1050.5V1046.6M660.3,1050.0V1054.7M664.3,1050.5V1055.4M675.8,1054.5V1050.4M676.8,1051.1V1055.2M679.3,1052.3V1057.7M686.8,1053.9V1058.3M687.3,1053.8V1050.4M692.8,1055.0V1050.3M693.3,1055.5V1059.5M693.8,1056.3V1061.6M696.3,1055.5V1059.0M699.8,1056.2V1052.3M700.8,1055.3V1059.7M702.8,1056.2V1059.9M707.8,1055.1V1050.8M712.3,1056.5V1060.3M713.3,1056.9V1060.6M718.3,1054.5V1057.8M721.8,1057.2V1053.0M727.8,1058.7V1062.7M732.5,1058.5V1063.9" fill="none" stroke="#000" stroke-width="1.4" stroke-linecap="round"/>
<path d="M171.3,1112.33 L171.8,1112.91 L172.3,1114.08 L172.8,1112.44 L173.3,1113.04 L173.8,1112.76 L174.3,1112.11 L174.8,1111.76 L175.3,1110.59 L175.8,1111.70 L176.3,1110.62 L176.8,1111.86 L177.3,1112.19 L177.8,1112.23 L178.3,1112.71 L178.8,1113.94 L179.3,1114.39 L179.8,1115.76 L180.3,1116.64 L180.8,1117.05 L181.3,1117.19 L181.8,1116.53 L182.3,1115.68 L182.8,1114.74 L183.3,1115.26 L183.8,1116.56 L184.3,1116.91 L184.8,1117.83 L185.3,1117.48 L185.8,1118.97 L186.3,1119.28 L186.8,1118.21 L187.3,1118.47 L187.8,1116.59 L188.3,1118.34 L188.8,1118.89 L189.3,1119.90 L189.8,1118.11 L190.3,1120.30 L190.8,1120.16 L191.3,1119.27 L191.8,1121.17 L192.3,1120.53 L192.8,1119.71 L193.3,1120.90 L193.8,1120.51 L194.3,1120.95 L194.8,1121.05 L195.3,1123.19 L195.8,1121.31 L196.3,1123.23 L196.8,1122.66 L197.3,1124.60 L197.8,1123.16 L198.3,1125.09 L198.8,1124.84 L199.3,1124.91 L199.8,1124.67 L200.3,1124.79 L200.8,1124.47 L201.3,1124.27 L201.8,1123.37 L202.3,1123.26 L202.8,1125.38 L203.3,1125.57 L203.8,1126.55 L204.3,1126.29 L204.8,1125.86 L205.3,1126.43 L205.8,1126.53 L206.3,1126.89 L206.8,1127.46 L207.3,1127.41 L207.8,1125.83 L208.3,1126.73 L208.8,1125.97 L209.3,1126.00 L209.8,1126.98" fill="none" stroke="#a9a9a9" stroke-width="4.0" stroke-linejoin="round"/>
<path d="M209.8,1126.98 L210.3,1126.49 L210.8,1123.73 L211.3,1108.02 L211.8,1090.62 L212.3,1073.02 L212.8,1057.86 L213.3,1044.11 L213.8,1032.20 L214.3,1019.69 L214.8,1012.27 L215.3,1007.65 L215.8,1004.62 L216.3,1000.45 L216.8,997.59 L217.3,994.67 L217.8,993.90 L218.3,992.75 L218.8,993.41 L219.3,990.49" fill="none" stroke="#a9a9a9" stroke-width="2.2" stroke-linejoin="round"/>
<path d="M219.3,990.49 L219.8,988.50 L220.3,987.08 L220.8,985.98 L221.3,983.84 L221.8,983.50 L222.3,981.99 L222.8,981.85 L223.3,981.41 L223.8,979.24 L224.3,981.43 L224.8,978.22 L225.3,977.85 L225.8,978.37 L226.3,976.56 L226.8,976.54 L227.3,975.98 L227.8,974.71 L228.3,972.55 L228.8,973.11 L229.3,971.28 L229.8,970.10 L230.3,971.14 L230.8,969.58 L231.3,970.04 L231.8,967.99 L232.3,968.44 L232.8,966.49 L233.3,965.81 L233.8,964.97 L234.3,964.79 L234.8,964.88 L235.3,964.74 L235.8,964.20 L236.3,965.10 L236.8,963.99 L237.3,962.19 L237.8,962.18 L238.3,962.30 L238.8,963.44 L239.3,963.67 L239.8,963.81 L240.3,962.54 L240.8,962.84 L241.3,960.70 L241.8,962.02 L242.3,961.68 L242.8,961.62 L243.3,960.43 L243.8,959.74 L244.3,958.82 L244.8,960.42 L245.3,958.49 L245.8,959.46 L246.3,959.38 L246.8,960.48 L247.3,960.61 L247.8,958.48 L248.3,958.56 L248.8,958.19 L249.3,957.39 L249.8,956.22 L250.3,955.67 L250.8,955.71 L251.3,955.77 L251.8,955.49 L252.3,954.31 L252.8,955.22 L253.3,956.58 L253.8,956.15 L254.3,955.94 L254.8,955.78 L255.3,957.18 L255.8,956.07 L256.3,955.06 L256.8,954.09 L257.3,953.43 L257.8,954.45 L258.3,953.23 L258.8,955.14 L259.3,955.75 L259.8,954.73 L260.3,955.68 L260.8,953.67 L261.3,952.29 L261.8,953.09 L262.3,953.41 L262.8,952.79 L263.3,952.32 L263.8,954.34 L264.3,953.95 L264.8,953.85 L265.3,954.18 L265.8,953.40 L266.3,953.70 L266.8,952.06 L267.3,950.79 L267.8,953.37 L268.3,952.53 L268.8,950.48 L269.3,950.31 L269.8,949.26 L270.3,952.45 L270.8,952.21 L271.3,952.71 L271.8,953.66 L272.3,953.55 L272.8,953.00 L273.3,952.26 L273.8,951.61 L274.3,950.73 L274.8,950.67 L275.3,950.30 L275.8,951.75 L276.3,951.91 L276.8,951.41 L277.3,949.47 L277.8,950.55 L278.3,951.37 L278.8,950.48 L279.3,948.84 L279.8,950.49 L280.3,950.91 L280.8,948.62 L281.3,949.67 L281.8,948.04 L282.3,948.15 L282.8,950.38 L283.3,949.59 L283.8,950.24 L284.3,949.50 L284.8,949.79 L285.3,951.14 L285.8,951.54 L286.3,950.09 L286.8,949.25 L287.3,948.71 L287.8,951.17 L288.3,950.23 L288.8,950.28 L289.3,949.53 L289.8,947.94 L290.3,949.09 L290.8,949.03 L291.3,948.53 L291.8,947.57 L292.3,946.89 L292.8,947.04 L293.3,947.03 L293.8,947.80 L294.3,948.83 L294.8,948.99 L295.3,948.64 L295.8,948.46 L296.3,947.86 L296.8,949.01 L297.3,950.02 L297.8,948.93 L298.3,948.16 L298.8,946.77 L299.3,946.51 L299.8,946.58 L300.3,946.64 L300.8,946.67 L301.3,947.86 L301.8,947.85 L302.3,945.85 L302.8,945.25 L303.3,944.70 L303.8,946.49 L304.3,946.85 L304.8,947.07 L305.3,947.60 L305.8,946.90 L306.3,947.54 L306.8,948.69 L307.3,948.26 L307.8,948.70 L308.3,947.48 L308.8,946.96 L309.3,946.03 L309.8,946.51 L310.3,946.39 L310.8,945.74 L311.3,945.84 L311.8,946.12 L312.3,945.54 L312.8,945.92 L313.3,947.68 L313.8,947.13 L314.3,947.76 L314.8,946.87 L315.3,945.16 L315.8,945.58 L316.3,947.42 L316.8,945.58 L317.3,946.43 L317.8,947.09 L318.3,948.15 L318.8,946.75 L319.3,946.85 L319.8,944.91 L320.3,945.04 L320.8,946.00 L321.3,947.13 L321.8,945.20 L322.3,944.75 L322.8,944.31 L323.3,946.15 L323.8,943.95 L324.3,943.81 L324.8,946.36 L325.3,946.37 L325.8,945.30 L326.3,945.09 L326.8,945.65 L327.3,946.11 L327.8,945.94 L328.3,945.13 L328.8,946.30 L329.3,945.16 L329.8,946.20 L330.3,946.39 L330.8,945.20 L331.3,946.71 L331.8,945.57 L332.3,945.50 L332.8,945.53 L333.3,944.51 L333.8,945.23 L334.3,944.33 L334.8,944.61 L335.3,945.75 L335.8,946.91 L336.3,947.18 L336.8,946.46 L337.3,946.33 L337.8,946.95 L338.3,947.62 L338.8,945.84 L339.3,946.01 L339.8,944.47 L340.3,945.81 L340.8,945.10 L341.3,945.84 L341.8,944.93 L342.3,943.42 L342.8,943.22 L343.3,943.03 L343.8,944.64 L344.3,942.06 L344.8,942.43 L345.3,943.01 L345.8,942.94 L346.3,943.89 L346.8,944.03 L347.3,942.53 L347.8,943.93 L348.3,943.72 L348.8,944.69 L349.3,944.31 L349.8,944.57 L350.3,943.70 L350.8,944.49 L351.3,944.32 L351.8,944.73 L352.3,943.21 L352.8,943.72 L353.3,943.59 L353.8,943.69 L354.3,944.24 L354.8,946.25 L355.3,945.24 L355.8,945.55 L356.3,945.37 L356.8,945.38 L357.3,945.56 L357.8,945.30 L358.3,945.45 L358.8,946.06 L359.3,946.49 L359.8,943.58 L360.3,944.29 L360.8,944.14 L361.3,941.70 L361.8,941.69 L362.3,942.05 L362.8,941.61 L363.3,942.44 L363.8,941.29 L364.3,943.18 L364.8,944.19 L365.3,943.68 L365.8,943.26 L366.3,943.40 L366.8,942.74 L367.3,943.86 L367.8,944.34 L368.3,945.36 L368.8,944.10 L369.3,944.67 L369.8,944.21 L370.3,943.09 L370.8,942.40 L371.3,942.67 L371.8,942.75 L372.3,943.47 L372.8,944.28 L373.3,943.94 L373.8,943.72 L374.3,943.58 L374.8,942.71 L375.3,943.13 L375.8,942.85 L376.3,943.84 L376.8,943.69 L377.3,943.67 L377.8,943.08 L378.3,943.04 L378.8,943.90 L379.3,942.67 L379.8,943.32 L380.3,942.75 L380.8,942.37 L381.3,944.52 L381.8,943.25 L382.3,942.35 L382.8,942.02 L383.3,942.00 L383.8,944.16 L384.3,942.39 L384.8,941.72 L385.3,941.04 L385.8,940.72 L386.3,942.32 L386.8,940.60 L387.3,940.66 L387.8,939.70 L388.3,940.28 L388.8,941.28 L389.3,942.20 L389.8,943.08 L390.3,942.79 L390.8,940.93 L391.3,941.50 L391.8,940.32 L392.3,940.89 L392.8,940.89 L393.3,940.95 L393.8,941.13 L394.3,940.96 L394.8,943.05 L395.3,942.57 L395.8,943.23 L396.3,943.01 L396.8,943.89 L397.3,942.57 L397.8,943.63 L398.3,942.40 L398.8,942.74 L399.3,942.26 L399.8,942.09 L400.3,942.03 L400.8,941.19 L401.3,941.92 L401.8,942.33 L402.3,942.01 L402.8,942.67 L403.3,941.28 L403.8,940.00 L404.3,940.34 L404.8,940.47 L405.3,942.39 L405.8,941.86 L406.3,942.29 L406.8,942.19 L407.3,944.00 L407.8,942.62 L408.3,942.45 L408.8,941.77 L409.3,941.45 L409.8,940.33 L410.3,940.53 L410.8,941.74 L411.3,941.66 L411.8,941.68 L412.3,941.63 L412.8,940.95 L413.3,940.66 L413.8,940.92 L414.3,941.24 L414.8,942.11 L415.3,940.53 L415.8,941.48 L416.3,942.63 L416.8,941.17 L417.3,941.15 L417.8,941.15 L418.3,942.93 L418.8,942.62 L419.3,942.44 L419.8,941.86 L420.3,942.43 L420.8,942.46 L421.3,943.21 L421.8,942.73 L422.3,940.79 L422.8,940.78 L423.3,940.60 L423.8,940.83 L424.3,941.12 L424.8,940.75 L425.3,942.72 L425.8,942.94 L426.3,942.60 L426.8,941.24 L427.3,940.85 L427.8,941.37 L428.3,940.68 L428.8,942.21 L429.3,941.83 L429.8,940.50 L430.3,941.46 L430.8,942.60 L431.3,941.25 L431.8,940.43 L432.3,940.80 L432.8,940.74 L433.3,940.95 L433.8,939.19 L434.3,941.46 L434.8,940.76 L435.3,940.82 L435.8,940.79 L436.3,942.08 L436.8,942.11 L437.3,942.07 L437.8,941.36 L438.3,942.44 L438.8,941.57 L439.3,939.47 L439.8,939.92 L440.3,939.48 L440.8,940.27 L441.3,941.20 L441.8,939.91 L442.3,940.39 L442.8,940.59 L443.3,939.44 L443.8,940.87 L444.3,939.91 L444.8,939.37 L445.3,940.22 L445.8,941.34 L446.3,940.25 L446.8,941.18 L447.3,941.47 L447.8,940.80 L448.3,941.57 L448.8,942.35 L449.3,940.94 L449.8,939.00 L450.3,939.86 L450.8,939.50 L451.3,940.43 L451.8,938.77 L452.3,940.27 L452.8,941.05 L453.3,942.21 L453.8,938.90 L454.3,940.80 L454.8,940.02 L455.3,937.64 L455.8,938.41 L456.3,939.55 L456.8,940.07 L457.3,939.30 L457.8,940.22 L458.3,940.28 L458.8,939.99 L459.3,939.44 L459.8,940.51 L460.3,941.63 L460.8,939.82 L461.3,941.14 L461.8,939.99 L462.3,939.87 L462.8,941.12 L463.3,940.67 L463.8,941.05 L464.3,940.97 L464.8,941.12 L465.3,940.62 L465.8,939.51 L466.3,940.12 L466.8,941.13 L467.3,941.09 L467.8,940.47 L468.3,940.77 L468.8,940.99 L469.3,940.27 L469.8,939.65 L470.3,939.90 L470.8,940.68 L471.3,939.61 L471.8,939.00 L472.3,939.59 L472.8,940.02 L473.3,940.16" fill="none" stroke="#a9a9a9" stroke-width="4.0" stroke-linejoin="round"/>
<path d="M473.3,940.16 L473.8,941.25 L474.3,935.72 L474.8,924.25 L475.3,933.58 L475.8,952.32 L476.3,967.44 L476.8,981.93 L477.3,994.22 L477.8,1003.55 L478.3,1010.54 L478.8,1015.34 L479.3,1019.83 L479.8,1024.13 L480.3,1027.62 L480.8,1028.22 L481.3,1030.78 L481.8,1031.76 L482.3,1033.94 L482.8,1035.16 L483.3,1037.64" fill="none" stroke="#a9a9a9" stroke-width="2.2" stroke-linejoin="round"/>
<path d="M483.3,1037.64 L483.8,1039.68 L484.3,1040.69 L484.8,1041.43 L485.3,1042.67 L485.8,1043.95 L486.3,1044.18 L486.8,1046.02 L487.3,1045.29 L487.8,1046.37 L488.3,1048.32 L488.8,1048.73 L489.3,1050.53 L489.8,1050.73 L490.3,1050.66 L490.8,1050.22 L491.3,1051.58 L491.8,1051.71 L492.3,1051.30 L492.8,1051.68 L493.3,1054.49 L493.8,1055.15 L494.3,1055.25 L494.8,1056.64 L495.3,1057.54 L495.8,1057.66 L496.3,1059.13 L496.8,1058.76 L497.3,1057.43 L497.8,1059.44 L498.3,1061.38 L498.8,1061.06 L499.3,1062.75 L499.8,1062.12 L500.3,1060.06 L500.8,1062.95 L501.3,1063.02 L501.8,1063.02 L502.3,1063.52 L502.8,1064.42 L503.3,1064.87 L503.8,1065.57 L504.3,1067.71 L504.8,1068.18 L505.3,1067.62 L505.8,1068.15 L506.3,1067.06 L506.8,1068.30 L507.3,1068.53 L507.8,1067.69 L508.3,1067.02 L508.8,1069.96 L509.3,1069.92 L509.8,1069.73 L510.3,1069.97 L510.8,1071.53 L511.3,1073.00 L511.8,1072.48 L512.3,1072.97 L512.8,1073.01 L513.3,1073.09 L513.8,1072.00 L514.3,1071.55 L514.8,1073.15 L515.3,1072.82 L515.8,1072.42 L516.3,1073.25 L516.8,1074.55 L517.3,1075.05 L517.8,1075.91 L518.3,1077.32 L518.8,1076.11 L519.3,1076.43 L519.8,1075.67 L520.3,1076.41 L520.8,1076.84 L521.3,1075.48 L521.8,1075.97 L522.3,1077.90 L522.8,1079.44 L523.3,1078.44 L523.8,1079.41 L524.3,1077.95 L524.8,1077.50 L525.3,1077.54 L525.8,1077.42 L526.3,1077.88 L526.8,1079.17 L527.3,1080.06 L527.8,1081.49 L528.3,1083.16 L528.8,1081.99 L529.3,1080.85 L529.8,1081.72 L530.3,1080.56 L530.8,1080.89 L531.3,1081.94 L531.8,1081.03 L532.3,1081.68 L532.8,1083.28 L533.3,1082.17 L533.8,1080.96 L534.3,1080.70 L534.8,1081.28 L535.3,1081.93 L535.8,1081.89 L536.3,1082.97 L536.8,1083.69 L537.3,1083.83 L537.8,1083.75 L538.3,1083.08 L538.8,1082.31 L539.3,1080.81 L539.8,1081.45 L540.3,1082.40 L540.8,1083.17 L541.3,1083.45 L541.8,1083.01 L542.3,1082.12 L542.8,1082.17 L543.3,1083.43 L543.8,1083.36 L544.3,1084.36 L544.8,1083.72 L545.3,1086.14 L545.8,1086.36 L546.3,1087.05 L546.8,1087.88 L547.3,1086.41 L547.8,1086.46 L548.3,1085.77 L548.8,1086.64 L549.3,1087.12 L549.8,1086.49 L550.3,1087.64 L550.8,1088.52 L551.3,1087.40 L551.8,1088.94 L552.3,1086.88 L552.8,1087.45 L553.3,1087.46 L553.8,1088.26 L554.3,1087.47 L554.8,1088.94 L555.3,1088.20 L555.8,1086.95 L556.3,1087.36 L556.8,1088.56 L557.3,1088.15 L557.8,1089.38 L558.3,1090.91 L558.8,1090.53 L559.3,1090.38 L559.8,1089.62 L560.3,1089.12 L560.8,1089.77 L561.3,1089.97 L561.8,1089.24 L562.3,1090.30 L562.8,1090.08 L563.3,1090.29 L563.8,1088.88 L564.3,1088.41 L564.8,1089.52 L565.3,1089.75 L565.8,1090.39 L566.3,1091.32 L566.8,1093.30 L567.3,1092.64 L567.8,1093.43 L568.3,1092.44 L568.8,1092.87 L569.3,1092.19 L569.8,1093.30 L570.3,1093.28 L570.8,1093.04 L571.3,1094.91 L571.8,1092.92 L572.3,1090.77 L572.8,1092.67 L573.3,1093.34 L573.8,1093.27 L574.3,1092.62 L574.8,1095.54 L575.3,1093.82 L575.8,1092.87 L576.3,1092.30 L576.8,1093.21 L577.3,1093.18 L577.8,1092.85 L578.3,1093.50 L578.8,1093.39 L579.3,1093.91 L579.8,1094.21 L580.3,1093.52 L580.8,1094.12 L581.3,1093.21 L581.8,1094.25 L582.3,1093.24 L582.8,1093.87 L583.3,1092.62 L583.8,1092.72 L584.3,1093.63 L584.8,1094.40 L585.3,1095.14 L585.8,1095.73 L586.3,1094.01 L586.8,1094.58 L587.3,1094.30 L587.8,1093.49 L588.3,1096.07 L588.8,1094.99 L589.3,1095.13 L589.8,1095.66 L590.3,1095.69 L590.8,1096.63 L591.3,1096.05 L591.8,1095.83 L592.3,1097.44 L592.8,1097.94 L593.3,1096.76 L593.8,1096.56 L594.3,1096.94 L594.8,1097.69 L595.3,1096.68 L595.8,1095.28 L596.3,1095.96 L596.8,1096.91 L597.3,1097.48 L597.8,1096.47 L598.3,1097.76 L598.8,1096.71 L599.3,1096.00 L599.8,1097.61 L600.3,1096.82 L600.8,1098.09 L601.3,1097.84 L601.8,1096.20 L602.3,1097.82 L602.8,1098.41 L603.3,1098.15 L603.8,1097.38 L604.3,1098.68 L604.8,1096.96 L605.3,1098.11 L605.8,1098.70 L606.3,1097.67 L606.8,1096.91 L607.3,1097.38 L607.8,1097.99 L608.3,1097.94 L608.8,1097.27 L609.3,1099.07 L609.8,1099.08 L610.3,1098.87 L610.8,1097.65 L611.3,1098.19 L611.8,1099.36 L612.3,1098.89 L612.8,1097.92 L613.3,1098.16 L613.8,1097.94 L614.3,1098.87 L614.8,1099.92 L615.3,1100.54 L615.8,1101.08 L616.3,1100.19 L616.8,1100.52 L617.3,1099.58 L617.8,1100.80 L618.3,1099.29 L618.8,1099.53 L619.3,1100.02 L619.8,1099.92 L620.3,1101.83 L620.8,1101.55 L621.3,1100.28 L621.8,1101.53 L622.3,1101.18 L622.8,1101.37 L623.3,1101.28 L623.8,1103.52 L624.3,1101.92 L624.8,1101.56 L625.3,1101.62 L625.8,1101.64 L626.3,1102.09 L626.8,1100.21 L627.3,1101.34 L627.8,1101.15 L628.3,1102.33 L628.8,1100.85 L629.3,1099.99 L629.8,1101.60 L630.3,1102.85 L630.8,1103.47 L631.3,1101.98 L631.8,1102.38 L632.3,1101.84 L632.8,1102.53 L633.3,1102.00 L633.8,1102.59 L634.3,1102.96 L634.8,1102.70 L635.3,1102.55 L635.8,1101.06 L636.3,1102.45 L636.8,1102.24 L637.3,1102.04 L637.8,1101.33 L638.3,1103.28 L638.8,1102.55 L639.3,1102.93 L639.8,1103.80 L640.3,1103.73 L640.8,1102.93 L641.3,1103.37 L641.8,1103.02 L642.3,1103.28 L642.8,1102.79 L643.3,1102.23 L643.8,1101.67 L644.3,1102.49 L644.8,1103.23 L645.3,1103.62 L645.8,1104.95 L646.3,1105.04 L646.8,1104.73 L647.3,1103.93 L647.8,1103.92 L648.3,1103.94 L648.8,1104.39 L649.3,1105.70 L649.8,1103.88 L650.3,1104.35 L650.8,1105.26 L651.3,1103.78 L651.8,1104.09 L652.3,1104.25 L652.8,1103.88 L653.3,1106.75 L653.8,1105.68 L654.3,1106.13 L654.8,1104.51 L655.3,1103.91 L655.8,1104.93 L656.3,1104.51 L656.8,1103.74 L657.3,1102.93 L657.8,1102.94 L658.3,1103.43 L658.8,1104.01 L659.3,1103.63 L659.8,1104.13 L660.3,1105.83 L660.8,1105.46 L661.3,1103.65 L661.8,1104.02 L662.3,1104.29 L662.8,1105.72 L663.3,1105.29 L663.8,1105.73 L664.3,1104.91 L664.8,1103.38 L665.3,1104.57 L665.8,1104.58 L666.3,1105.46 L666.8,1105.61 L667.3,1105.58 L667.8,1106.44 L668.3,1105.59 L668.8,1105.77 L669.3,1105.21 L669.8,1105.53 L670.3,1106.57 L670.8,1106.67 L671.3,1106.87 L671.8,1105.41 L672.3,1105.73 L672.8,1106.43 L673.3,1107.31 L673.8,1108.80 L674.3,1108.64 L674.8,1106.73 L675.3,1106.11 L675.8,1106.31 L676.3,1107.82 L676.8,1106.28 L677.3,1106.96 L677.8,1107.77 L678.3,1106.12 L678.8,1107.22 L679.3,1106.50 L679.8,1106.65 L680.3,1106.20 L680.8,1107.33 L681.3,1106.76 L681.8,1106.49 L682.3,1105.48 L682.8,1106.10 L683.3,1106.83 L683.8,1107.59 L684.3,1107.67 L684.8,1107.42 L685.3,1107.50 L685.8,1107.13 L686.3,1106.92 L686.8,1109.46 L687.3,1105.51 L687.8,1106.12 L688.3,1105.72 L688.8,1107.42 L689.3,1106.32 L689.8,1108.64 L690.3,1107.85 L690.8,1108.78 L691.3,1108.30 L691.8,1109.10 L692.3,1108.51 L692.8,1106.34 L693.3,1106.44 L693.8,1106.64 L694.3,1107.87 L694.8,1107.76 L695.3,1108.49 L695.8,1109.23 L696.3,1108.86 L696.8,1108.61 L697.3,1109.80 L697.8,1109.75 L698.3,1108.67 L698.8,1108.05 L699.3,1107.18 L699.8,1108.57 L700.3,1107.70 L700.8,1107.36 L701.3,1108.57 L701.8,1107.68 L702.3,1108.27 L702.8,1107.53 L703.3,1107.38 L703.8,1107.19 L704.3,1108.88 L704.8,1109.43 L705.3,1109.50 L705.8,1109.13 L706.3,1108.20 L706.8,1109.43 L707.3,1110.52 L707.8,1108.68 L708.3,1108.32 L708.8,1108.92 L709.3,1109.92 L709.8,1109.45 L710.3,1110.29 L710.8,1108.54 L711.3,1110.48 L711.8,1108.97 L712.3,1109.17 L712.8,1110.03 L713.3,1110.82 L713.8,1111.63 L714.3,1110.69 L714.8,1111.89 L715.3,1111.48 L715.8,1111.60 L716.3,1111.71 L716.8,1110.33 L717.3,1109.16 L717.8,1109.02 L718.3,1110.56 L718.8,1111.45 L719.3,1110.85 L719.8,1110.31 L720.3,1110.51 L720.8,1111.06 L721.3,1109.17 L721.8,1109.52 L722.3,1109.85 L722.8,1111.20 L723.3,1110.65 L723.8,1110.29 L724.3,1111.15 L724.8,1108.45 L725.3,1111.96 L725.8,1112.37 L726.3,1112.48 L726.8,1111.30 L727.3,1111.22 L727.8,1112.27 L728.3,1113.32 L728.8,1112.25 L729.3,1111.19 L729.8,1111.05 L730.3,1111.06 L730.8,1111.02 L731.3,1110.79 L731.8,1110.29 L732.3,1110.48 L732.5,1110.25" fill="none" stroke="#a9a9a9" stroke-width="4.0" stroke-linejoin="round"/>
<path d="M171.3,1112.3V1109.3M171.8,1112.9V1109.0M176.8,1111.9V1108.1M180.3,1116.6V1120.0M181.3,1117.2V1114.1M182.3,1115.7V1118.9M187.8,1116.6V1119.4M190.3,1120.3V1116.1M191.3,1119.3V1114.2M193.8,1120.5V1117.7M194.3,1121.0V1117.7M196.3,1123.2V1118.4M196.8,1122.7V1126.3M199.8,1124.7V1121.7M200.3,1124.8V1129.8M201.8,1123.4V1118.6M203.8,1126.5V1131.7M205.3,1126.4V1130.5M209.8,1127.0V1121.9M211.8,1090.6V1095.4M216.8,997.6V992.6M217.3,994.7V990.2M221.3,983.8V980.1M221.8,983.5V979.9M222.3,982.0V978.8M223.3,981.4V986.6M225.3,977.9V973.3M225.8,978.4V981.9M229.8,970.1V974.7M230.3,971.1V967.5M232.3,968.4V964.3M233.3,965.8V962.8M235.8,964.2V968.1M236.3,965.1V961.7M236.8,964.0V959.9M237.8,962.2V957.4M238.3,962.3V958.0M238.8,963.4V958.8M239.8,963.8V959.6M244.8,960.4V963.9M245.8,959.5V956.4M247.3,960.6V956.7M248.8,958.2V955.2M249.3,957.4V953.4M250.8,955.7V951.2M251.8,955.5V959.3M254.8,955.8V958.7M257.3,953.4V956.8M260.3,955.7V951.5M263.3,952.3V947.5M263.8,954.3V949.6M264.3,953.9V957.4M268.3,952.5V949.5M269.8,949.3V944.2M270.3,952.5V948.1M272.3,953.5V950.3M274.8,950.7V947.8M278.8,950.5V945.9M280.3,950.9V947.7M283.3,949.6V952.9M285.3,951.1V946.4M289.3,949.5V953.3M290.3,949.1V945.8M291.3,948.5V945.0M294.3,948.8V943.9M294.8,949.0V953.7M295.3,948.6V944.0M298.8,946.8V943.5M300.3,946.6V943.3M300.8,946.7V943.5M302.3,945.8V941.8M304.3,946.9V942.6M305.3,947.6V944.3M306.3,947.5V942.9M307.8,948.7V953.2M313.3,947.7V952.7M315.8,945.6V942.5M321.3,947.1V943.5M326.8,945.6V949.9M329.3,945.2V950.0M333.3,944.5V940.3M335.8,946.9V943.8M338.3,947.6V943.3M339.8,944.5V941.2M347.3,942.5V945.9M348.3,943.7V940.6M350.8,944.5V947.8M353.3,943.6V939.7M354.3,944.2V939.1M356.3,945.4V949.6M357.8,945.3V940.4M359.3,946.5V951.2M361.3,941.7V938.6M363.8,941.3V945.2M366.3,943.4V938.6M366.8,942.7V946.3M367.3,943.9V947.1M369.3,944.7V939.7M376.3,943.8V940.3M376.8,943.7V948.1M379.8,943.3V948.4M383.3,942.0V938.5M384.8,941.7V945.7M385.8,940.7V945.9M386.8,940.6V936.1M388.3,940.3V945.4M395.3,942.6V945.7M396.3,943.0V938.8M398.8,942.7V938.5M399.3,942.3V938.6M400.3,942.0V938.1M400.8,941.2V936.3M401.3,941.9V946.6M402.3,942.0V937.6M403.3,941.3V944.4M404.3,940.3V936.4M404.8,940.5V935.9M408.8,941.8V938.0M409.8,940.3V944.1M412.3,941.6V945.3M415.3,940.5V944.5M415.8,941.5V937.4M418.3,942.9V946.1M421.3,943.2V938.9M423.8,940.8V943.7M424.8,940.8V936.2M425.3,942.7V938.9M426.3,942.6V939.8M426.8,941.2V937.7M427.8,941.4V937.6M430.3,941.5V938.4M430.8,942.6V937.8M432.8,940.7V937.5M436.8,942.1V937.1M438.8,941.6V945.2M439.3,939.5V936.0M440.8,940.3V943.4M442.3,940.4V936.6M444.3,939.9V936.1M445.3,940.2V935.3M446.8,941.2V936.5M447.8,940.8V937.9M453.3,942.2V946.2M455.3,937.6V932.7M455.8,938.4V942.1M456.3,939.5V934.4M456.8,940.1V934.9M461.3,941.1V936.4M462.3,939.9V934.9M470.8,940.7V936.3M475.3,933.6V937.8M479.3,1019.8V1023.8M482.8,1035.2V1039.7M488.3,1048.3V1051.3M489.3,1050.5V1055.4M491.8,1051.7V1047.3M494.3,1055.2V1052.0M494.8,1056.6V1052.6M497.3,1057.4V1053.4M497.8,1059.4V1062.8M500.3,1060.1V1055.2M500.8,1062.9V1059.7M506.8,1068.3V1072.2M507.3,1068.5V1064.7M508.8,1070.0V1065.7M511.3,1073.0V1067.9M512.3,1073.0V1077.6M517.3,1075.0V1070.4M519.3,1076.4V1080.4M520.8,1076.8V1080.0M525.8,1077.4V1074.4M532.8,1083.3V1079.7M533.3,1082.2V1079.1M535.3,1081.9V1078.4M536.3,1083.0V1078.7M536.8,1083.7V1078.9M539.3,1080.8V1075.9M541.8,1083.0V1079.1M543.8,1083.4V1080.1M547.8,1086.5V1090.4M553.8,1088.3V1083.3M554.8,1088.9V1085.1M555.3,1088.2V1083.8M555.8,1086.9V1090.6M557.3,1088.1V1085.1M557.8,1089.4V1084.9M558.8,1090.5V1085.4M559.3,1090.4V1095.5M564.3,1088.4V1092.7M568.8,1092.9V1090.0M569.3,1092.2V1088.8M569.8,1093.3V1089.9M571.8,1092.9V1088.0M572.8,1092.7V1097.2M574.3,1092.6V1097.2M576.8,1093.2V1097.4M577.3,1093.2V1097.8M577.8,1092.9V1089.2M583.8,1092.7V1087.8M588.3,1096.1V1100.4M589.3,1095.1V1098.8M592.8,1097.9V1093.3M593.3,1096.8V1093.6M595.8,1095.3V1091.2M598.8,1096.7V1101.3M599.8,1097.6V1100.9M601.3,1097.8V1101.6M602.8,1098.4V1093.3M606.3,1097.7V1093.1M606.8,1096.9V1094.0M607.3,1097.4V1094.2M608.8,1097.3V1093.0M609.8,1099.1V1094.4M610.8,1097.6V1093.1M612.8,1097.9V1095.1M618.3,1099.3V1103.4M621.3,1100.3V1095.7M622.3,1101.2V1097.2M625.3,1101.6V1106.2M629.3,1100.0V1097.0M634.8,1102.7V1098.5M636.8,1102.2V1098.2M638.3,1103.3V1108.3M641.8,1103.0V1107.7M643.3,1102.2V1098.9M647.3,1103.9V1100.1M647.8,1103.9V1099.7M648.3,1103.9V1100.4M649.3,1105.7V1102.7M649.8,1103.9V1106.8M650.3,1104.4V1099.7M651.8,1104.1V1101.2M654.3,1106.1V1110.3M656.3,1104.5V1100.6M657.3,1102.9V1099.2M658.3,1103.4V1098.3M664.3,1104.9V1100.0M666.8,1105.6V1109.5M667.3,1105.6V1101.1M672.8,1106.4V1103.6M673.8,1108.8V1104.2M675.3,1106.1V1110.3M675.8,1106.3V1102.5M682.8,1106.1V1101.9M683.8,1107.6V1103.8M684.3,1107.7V1104.1M684.8,1107.4V1102.8M689.8,1108.6V1113.5M692.8,1106.3V1101.3M693.3,1106.4V1102.6M694.8,1107.8V1110.8M696.8,1108.6V1104.5M704.8,1109.4V1114.1M705.8,1109.1V1113.4M706.3,1108.2V1112.3M708.3,1108.3V1103.5M709.8,1109.5V1106.3M713.3,1110.8V1107.7M715.3,1111.5V1106.6M717.8,1109.0V1106.2M718.3,1110.6V1107.2M718.8,1111.5V1106.6M720.3,1110.5V1115.5M722.3,1109.8V1112.9M728.3,1113.3V1108.3M730.3,1111.1V1106.5M730.8,1111.0V1108.2M732.5,1110.2V1114.8" fill="none" stroke="#a9a9a9" stroke-width="1.4" stroke-linecap="round"/>
<text x="798.70" y="1065.80" font-size="20" text-anchor="start" fill="#000" >k</text>
<text x="808.90" y="1070.10" font-size="13" text-anchor="start" fill="#000" textLength="6.0" lengthAdjust="spacingAndGlyphs">d</text>
<text x="821.30" y="1065.80" font-size="20" text-anchor="start" fill="#000" textLength="74.5" lengthAdjust="spacingAndGlyphs">1.07x10</text>
<text x="896.60" y="1059.40" font-size="14" text-anchor="start" fill="#000" textLength="12" lengthAdjust="spacingAndGlyphs">-2</text>
<text x="912.70" y="1065.80" font-size="20" text-anchor="start" fill="#000" textLength="14.2" lengthAdjust="spacingAndGlyphs">[s</text>
<text x="928.70" y="1059.40" font-size="14" text-anchor="start" fill="#000" textLength="9.5" lengthAdjust="spacingAndGlyphs">-1</text>
<text x="940.30" y="1065.80" font-size="20" text-anchor="start" fill="#000" >]</text>
<text x="798.70" y="1119.90" font-size="20" text-anchor="start" fill="#000" >k</text>
<text x="808.90" y="1124.20" font-size="13" text-anchor="start" fill="#000" textLength="6.0" lengthAdjust="spacingAndGlyphs">d</text>
<text x="821.30" y="1119.90" font-size="20" text-anchor="start" fill="#000" textLength="74.5" lengthAdjust="spacingAndGlyphs">2.54x10</text>
<text x="896.60" y="1113.50" font-size="14" text-anchor="start" fill="#000" textLength="12" lengthAdjust="spacingAndGlyphs">-2</text>
<text x="912.70" y="1119.90" font-size="20" text-anchor="start" fill="#000" textLength="14.2" lengthAdjust="spacingAndGlyphs">[s</text>
<text x="928.70" y="1113.50" font-size="14" text-anchor="start" fill="#000" textLength="9.5" lengthAdjust="spacingAndGlyphs">-1</text>
<text x="940.30" y="1119.90" font-size="20" text-anchor="start" fill="#000" >]</text>
</svg></body></html>
